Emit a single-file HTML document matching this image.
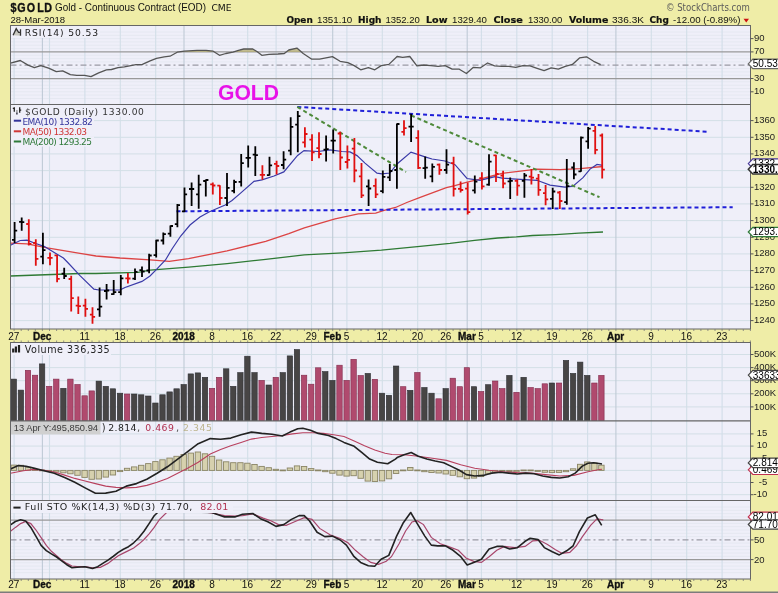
<!DOCTYPE html>
<html><head><meta charset="utf-8"><title>$GOLD StockCharts</title>
<style>html,body{margin:0;padding:0;background:#EFEDA7;overflow:hidden}svg{display:block}</style>
</head><body>
<svg width="778" height="593" viewBox="0 0 778 593">
<rect width="778" height="593" fill="#EFEDA7"/>
<rect x="0" y="591.5" width="778" height="1.5" fill="#7c7c7c"/>
<text transform="scale(0.84,1)" x="12.62 20.48 31.90 44.29 52.62" y="12.2" font-family="'Liberation Sans', Arial, sans-serif" font-size="12.8" font-weight="bold" fill="#111" stroke="#111" stroke-width="0.35">$GOLD</text>
<text x="55.1" y="11.2" font-family="'Liberation Sans', Arial, sans-serif" font-size="10" fill="#111" textLength="150.9" lengthAdjust="spacingAndGlyphs">Gold - Continuous Contract (EOD)</text>
<text x="211.4" y="11.2" font-family="'DejaVu Sans', Verdana, sans-serif" font-size="8.2" fill="#111" textLength="20.2" lengthAdjust="spacingAndGlyphs">CME</text>
<text x="10.4" y="23" font-family="'Liberation Sans', Arial, sans-serif" font-size="9.5" fill="#111" textLength="54.8" lengthAdjust="spacingAndGlyphs">28-Mar-2018</text>
<text x="286.4" y="22.8" font-family="'DejaVu Sans', Verdana, sans-serif" font-size="9" font-weight="bold" fill="#111" textLength="26.4" lengthAdjust="spacingAndGlyphs" stroke="#111" stroke-width="0.2">Open</text>
<text x="317" y="22.8" font-family="'Liberation Sans', Arial, sans-serif" font-size="9.5" fill="#111" textLength="35.3" lengthAdjust="spacingAndGlyphs">1351.10</text>
<text x="358" y="22.8" font-family="'DejaVu Sans', Verdana, sans-serif" font-size="9" font-weight="bold" fill="#111" textLength="23.5" lengthAdjust="spacingAndGlyphs" stroke="#111" stroke-width="0.2">High</text>
<text x="385.4" y="22.8" font-family="'Liberation Sans', Arial, sans-serif" font-size="9.5" fill="#111" textLength="34.4" lengthAdjust="spacingAndGlyphs">1352.20</text>
<text x="426" y="22.8" font-family="'DejaVu Sans', Verdana, sans-serif" font-size="9" font-weight="bold" fill="#111" textLength="21.5" lengthAdjust="spacingAndGlyphs" stroke="#111" stroke-width="0.2">Low</text>
<text x="452" y="22.8" font-family="'Liberation Sans', Arial, sans-serif" font-size="9.5" fill="#111" textLength="35" lengthAdjust="spacingAndGlyphs">1329.40</text>
<text x="493.4" y="22.8" font-family="'DejaVu Sans', Verdana, sans-serif" font-size="9" font-weight="bold" fill="#111" textLength="29.5" lengthAdjust="spacingAndGlyphs" stroke="#111" stroke-width="0.2">Close</text>
<text x="527.9" y="22.8" font-family="'Liberation Sans', Arial, sans-serif" font-size="9.5" fill="#111" textLength="34.4" lengthAdjust="spacingAndGlyphs">1330.00</text>
<text x="568.9" y="22.8" font-family="'DejaVu Sans', Verdana, sans-serif" font-size="9" font-weight="bold" fill="#111" textLength="39.4" lengthAdjust="spacingAndGlyphs" stroke="#111" stroke-width="0.2">Volume</text>
<text x="612" y="22.8" font-family="'Liberation Sans', Arial, sans-serif" font-size="9.5" fill="#111" textLength="32" lengthAdjust="spacingAndGlyphs">336.3K</text>
<text x="649.5" y="22.8" font-family="'DejaVu Sans', Verdana, sans-serif" font-size="9" font-weight="bold" fill="#111" textLength="19.3" lengthAdjust="spacingAndGlyphs" stroke="#111" stroke-width="0.2">Chg</text>
<text x="673" y="22.8" font-family="'Liberation Sans', Arial, sans-serif" font-size="9.5" fill="#111" textLength="67.5" lengthAdjust="spacingAndGlyphs">-12.00 (-0.89%)</text>
<path d="M743.5,18.8 L749,18.8 L746.25,22.6 Z" fill="#cc1111"/>
<text x="665.9" y="11.4" font-family="'DejaVu Sans', Verdana, sans-serif" font-size="10" fill="#5a5a5a" textLength="84" lengthAdjust="spacingAndGlyphs">© StockCharts.com</text>
<rect x="10.5" y="25.5" width="740.0" height="79.0" fill="#EFEFF9"/>
<line x1="10.5" y1="98.5" x2="750.5" y2="98.5" stroke="#E5E8F1" stroke-width="1"/>
<line x1="10.5" y1="95.1" x2="750.5" y2="95.1" stroke="#E5E8F1" stroke-width="1"/>
<line x1="10.5" y1="91.8" x2="750.5" y2="91.8" stroke="#E5E8F1" stroke-width="1"/>
<line x1="10.5" y1="88.5" x2="750.5" y2="88.5" stroke="#E5E8F1" stroke-width="1"/>
<line x1="10.5" y1="85.2" x2="750.5" y2="85.2" stroke="#E5E8F1" stroke-width="1"/>
<line x1="10.5" y1="81.8" x2="750.5" y2="81.8" stroke="#E5E8F1" stroke-width="1"/>
<line x1="10.5" y1="75.2" x2="750.5" y2="75.2" stroke="#E5E8F1" stroke-width="1"/>
<line x1="10.5" y1="71.9" x2="750.5" y2="71.9" stroke="#E5E8F1" stroke-width="1"/>
<line x1="10.5" y1="68.5" x2="750.5" y2="68.5" stroke="#E5E8F1" stroke-width="1"/>
<line x1="10.5" y1="61.9" x2="750.5" y2="61.9" stroke="#E5E8F1" stroke-width="1"/>
<line x1="10.5" y1="58.6" x2="750.5" y2="58.6" stroke="#E5E8F1" stroke-width="1"/>
<line x1="10.5" y1="55.2" x2="750.5" y2="55.2" stroke="#E5E8F1" stroke-width="1"/>
<line x1="10.5" y1="48.6" x2="750.5" y2="48.6" stroke="#E5E8F1" stroke-width="1"/>
<line x1="10.5" y1="45.2" x2="750.5" y2="45.2" stroke="#E5E8F1" stroke-width="1"/>
<line x1="10.5" y1="41.9" x2="750.5" y2="41.9" stroke="#E5E8F1" stroke-width="1"/>
<line x1="10.5" y1="38.6" x2="750.5" y2="38.6" stroke="#E5E8F1" stroke-width="1"/>
<line x1="10.5" y1="35.3" x2="750.5" y2="35.3" stroke="#E5E8F1" stroke-width="1"/>
<line x1="10.5" y1="32.0" x2="750.5" y2="32.0" stroke="#E5E8F1" stroke-width="1"/>
<line x1="14.1" y1="25.5" x2="14.1" y2="104.5" stroke="#D2DEE8" stroke-width="1.1"/>
<line x1="42.4" y1="25.5" x2="42.4" y2="104.5" stroke="#BFCAD6" stroke-width="1.1"/>
<line x1="49.5" y1="25.5" x2="49.5" y2="104.5" stroke="#D2DEE8" stroke-width="1.1"/>
<line x1="84.9" y1="25.5" x2="84.9" y2="104.5" stroke="#D2DEE8" stroke-width="1.1"/>
<line x1="120.3" y1="25.5" x2="120.3" y2="104.5" stroke="#D2DEE8" stroke-width="1.1"/>
<line x1="155.7" y1="25.5" x2="155.7" y2="104.5" stroke="#D2DEE8" stroke-width="1.1"/>
<line x1="184.0" y1="25.5" x2="184.0" y2="104.5" stroke="#BFCAD6" stroke-width="1.1"/>
<line x1="212.3" y1="25.5" x2="212.3" y2="104.5" stroke="#D2DEE8" stroke-width="1.1"/>
<line x1="247.7" y1="25.5" x2="247.7" y2="104.5" stroke="#D2DEE8" stroke-width="1.1"/>
<line x1="276.1" y1="25.5" x2="276.1" y2="104.5" stroke="#D2DEE8" stroke-width="1.1"/>
<line x1="311.5" y1="25.5" x2="311.5" y2="104.5" stroke="#D2DEE8" stroke-width="1.1"/>
<line x1="332.7" y1="25.5" x2="332.7" y2="104.5" stroke="#BFCAD6" stroke-width="1.1"/>
<line x1="346.9" y1="25.5" x2="346.9" y2="104.5" stroke="#D2DEE8" stroke-width="1.1"/>
<line x1="382.3" y1="25.5" x2="382.3" y2="104.5" stroke="#D2DEE8" stroke-width="1.1"/>
<line x1="417.7" y1="25.5" x2="417.7" y2="104.5" stroke="#D2DEE8" stroke-width="1.1"/>
<line x1="446.0" y1="25.5" x2="446.0" y2="104.5" stroke="#D2DEE8" stroke-width="1.1"/>
<line x1="467.2" y1="25.5" x2="467.2" y2="104.5" stroke="#BFCAD6" stroke-width="1.1"/>
<line x1="481.4" y1="25.5" x2="481.4" y2="104.5" stroke="#D2DEE8" stroke-width="1.1"/>
<line x1="516.8" y1="25.5" x2="516.8" y2="104.5" stroke="#D2DEE8" stroke-width="1.1"/>
<line x1="552.2" y1="25.5" x2="552.2" y2="104.5" stroke="#D2DEE8" stroke-width="1.1"/>
<line x1="587.6" y1="25.5" x2="587.6" y2="104.5" stroke="#D2DEE8" stroke-width="1.1"/>
<line x1="615.9" y1="25.5" x2="615.9" y2="104.5" stroke="#BFCAD6" stroke-width="1.1"/>
<line x1="651.3" y1="25.5" x2="651.3" y2="104.5" stroke="#D2DEE8" stroke-width="1.1"/>
<line x1="686.7" y1="25.5" x2="686.7" y2="104.5" stroke="#D2DEE8" stroke-width="1.1"/>
<line x1="722.1" y1="25.5" x2="722.1" y2="104.5" stroke="#D2DEE8" stroke-width="1.1"/>
<line x1="10.5" y1="51.9" x2="750.5" y2="51.9" stroke="#999" stroke-width="1.25"/>
<line x1="10.5" y1="78.5" x2="750.5" y2="78.5" stroke="#999" stroke-width="1.25"/>
<line x1="10.5" y1="65.2" x2="750.5" y2="65.2" stroke="#9a9aa4" stroke-width="1.3" stroke-dasharray="6,3,2,3"/>
<polygon points="179.4,51.9 184.4,51.2 197.0,50.3 206.0,50.4 213.2,51.2 214.3,51.9" fill="#B8B078" opacity="0.8"/>
<polygon points="233.9,51.9 238.4,50.4 243.8,49.0 252.8,49.0 257.3,51.7 257.6,51.9" fill="#B8B078" opacity="0.8"/>
<polygon points="286.4,51.9 288.8,50.0 296.9,48.1 301.3,51.9" fill="#B8B078" opacity="0.8"/>
<polyline points="10.5,63.1 20.3,60.5 28.0,65.1 34.4,67.7 40.8,65.6 48.6,68.2 56.3,71.6 62.7,70.8 70.4,74.6 76.8,75.4 84.6,75.4 91.0,76.7 98.7,72.8 106.4,69.8 111.5,69.5 118.0,67.7 124.4,66.9 130.8,65.6 136.0,64.6 142.4,64.4 150.1,60.8 156.5,58.4 164.2,56.9 170.0,56.2 177.2,52.2 184.4,51.2 197.0,50.3 206.0,50.4 213.2,51.2 219.5,55.3 225.8,53.5 233.0,52.2 238.4,50.4 243.8,49.0 252.8,49.0 257.3,51.7 261.8,55.3 269.0,54.4 278.0,54.0 284.3,53.5 288.8,50.0 296.9,48.1 303.2,53.5 311.8,59.2 319.5,59.2 326.0,57.9 332.4,56.6 340.1,61.3 347.8,62.6 354.2,65.6 360.7,69.8 368.4,67.7 374.8,69.8 381.2,65.6 388.9,64.4 397.1,56.5 402.7,57.4 409.8,56.5 416.9,65.9 423.9,65.0 431.0,65.6 438.1,66.4 445.1,65.6 452.2,69.2 459.3,69.2 466.4,73.5 473.4,67.3 480.5,67.8 487.6,63.0 494.6,65.9 501.7,66.4 508.8,66.4 515.8,67.3 522.9,65.6 530.0,65.9 537.1,68.4 544.1,70.7 551.2,67.8 558.3,69.2 565.3,66.4 572.4,64.4 579.5,57.9 586.5,56.8 593.6,61.3 600.7,64.7" fill="none" stroke="#555" stroke-width="1.3" stroke-linejoin="round"/>
<text x="218" y="99.9" font-family="'Liberation Sans', Arial, sans-serif" font-size="22" font-weight="bold" fill="#E812E8" textLength="61" lengthAdjust="spacingAndGlyphs">GOLD</text>
<rect x="11" y="26" width="89" height="12" fill="#EFEFF9"/>
<path d="M13.1,35.2 L16.2,28.6 L18.6,32.4 L20.5,32.4 L20.5,35.7 Z" fill="#C8C8C0" stroke="none"/>
<path d="M13.1,35.2 L16.2,28.6 L18.6,32.4 H20.3 M20.5,29.3 V35.7" fill="none" stroke="#333" stroke-width="1.3"/>
<text x="24.7" y="35.5" font-family="'DejaVu Sans', Verdana, sans-serif" font-size="9.2" fill="#222" textLength="73.3" lengthAdjust="spacing">RSI(14) 50.53</text>
<rect x="10.5" y="25.5" width="740.0" height="79.0" fill="none" stroke="#666" stroke-width="1"/>
<line x1="750.5" y1="38.6" x2="753.5" y2="38.6" stroke="#555" stroke-width="1"/>
<text x="754" y="40.9" font-family="'Liberation Sans', Arial, sans-serif" font-size="9.5" fill="#222">90</text>
<line x1="750.5" y1="51.9" x2="753.5" y2="51.9" stroke="#555" stroke-width="1"/>
<text x="754" y="54.2" font-family="'Liberation Sans', Arial, sans-serif" font-size="9.5" fill="#222">70</text>
<line x1="750.5" y1="78.5" x2="753.5" y2="78.5" stroke="#555" stroke-width="1"/>
<text x="754" y="80.8" font-family="'Liberation Sans', Arial, sans-serif" font-size="9.5" fill="#222">30</text>
<line x1="750.5" y1="91.8" x2="753.5" y2="91.8" stroke="#555" stroke-width="1"/>
<text x="754" y="94.1" font-family="'Liberation Sans', Arial, sans-serif" font-size="9.5" fill="#222">10</text>
<path d="M748.3,63.9 L752.8,59.2 L790,59.2 L790,68.6 L752.8,68.6 Z" fill="#fff" stroke="#666" stroke-width="1.2"/>
<text x="752.8" y="67.3" font-family="'Liberation Sans', Arial, sans-serif" font-size="10" fill="#000">50.53</text>
<rect x="10.5" y="104.5" width="740.0" height="224.5" fill="#EFEFF9"/>
<line x1="10.5" y1="320.6" x2="750.5" y2="320.6" stroke="#D3DFE6" stroke-width="1"/>
<line x1="10.5" y1="303.9" x2="750.5" y2="303.9" stroke="#D3DFE6" stroke-width="1"/>
<line x1="10.5" y1="287.3" x2="750.5" y2="287.3" stroke="#D3DFE6" stroke-width="1"/>
<line x1="10.5" y1="270.6" x2="750.5" y2="270.6" stroke="#D3DFE6" stroke-width="1"/>
<line x1="10.5" y1="253.9" x2="750.5" y2="253.9" stroke="#D3DFE6" stroke-width="1"/>
<line x1="10.5" y1="237.3" x2="750.5" y2="237.3" stroke="#D3DFE6" stroke-width="1"/>
<line x1="10.5" y1="220.6" x2="750.5" y2="220.6" stroke="#D3DFE6" stroke-width="1"/>
<line x1="10.5" y1="203.9" x2="750.5" y2="203.9" stroke="#D3DFE6" stroke-width="1"/>
<line x1="10.5" y1="187.3" x2="750.5" y2="187.3" stroke="#D3DFE6" stroke-width="1"/>
<line x1="10.5" y1="170.6" x2="750.5" y2="170.6" stroke="#D3DFE6" stroke-width="1"/>
<line x1="10.5" y1="153.9" x2="750.5" y2="153.9" stroke="#D3DFE6" stroke-width="1"/>
<line x1="10.5" y1="137.3" x2="750.5" y2="137.3" stroke="#D3DFE6" stroke-width="1"/>
<line x1="10.5" y1="120.6" x2="750.5" y2="120.6" stroke="#D3DFE6" stroke-width="1"/>
<line x1="14.1" y1="104.5" x2="14.1" y2="329" stroke="#D2DEE8" stroke-width="1.1"/>
<line x1="42.4" y1="104.5" x2="42.4" y2="329" stroke="#BFCAD6" stroke-width="1.1"/>
<line x1="49.5" y1="104.5" x2="49.5" y2="329" stroke="#D2DEE8" stroke-width="1.1"/>
<line x1="84.9" y1="104.5" x2="84.9" y2="329" stroke="#D2DEE8" stroke-width="1.1"/>
<line x1="120.3" y1="104.5" x2="120.3" y2="329" stroke="#D2DEE8" stroke-width="1.1"/>
<line x1="155.7" y1="104.5" x2="155.7" y2="329" stroke="#D2DEE8" stroke-width="1.1"/>
<line x1="184.0" y1="104.5" x2="184.0" y2="329" stroke="#BFCAD6" stroke-width="1.1"/>
<line x1="212.3" y1="104.5" x2="212.3" y2="329" stroke="#D2DEE8" stroke-width="1.1"/>
<line x1="247.7" y1="104.5" x2="247.7" y2="329" stroke="#D2DEE8" stroke-width="1.1"/>
<line x1="276.1" y1="104.5" x2="276.1" y2="329" stroke="#D2DEE8" stroke-width="1.1"/>
<line x1="311.5" y1="104.5" x2="311.5" y2="329" stroke="#D2DEE8" stroke-width="1.1"/>
<line x1="332.7" y1="104.5" x2="332.7" y2="329" stroke="#BFCAD6" stroke-width="1.1"/>
<line x1="346.9" y1="104.5" x2="346.9" y2="329" stroke="#D2DEE8" stroke-width="1.1"/>
<line x1="382.3" y1="104.5" x2="382.3" y2="329" stroke="#D2DEE8" stroke-width="1.1"/>
<line x1="417.7" y1="104.5" x2="417.7" y2="329" stroke="#D2DEE8" stroke-width="1.1"/>
<line x1="446.0" y1="104.5" x2="446.0" y2="329" stroke="#D2DEE8" stroke-width="1.1"/>
<line x1="467.2" y1="104.5" x2="467.2" y2="329" stroke="#BFCAD6" stroke-width="1.1"/>
<line x1="481.4" y1="104.5" x2="481.4" y2="329" stroke="#D2DEE8" stroke-width="1.1"/>
<line x1="516.8" y1="104.5" x2="516.8" y2="329" stroke="#D2DEE8" stroke-width="1.1"/>
<line x1="552.2" y1="104.5" x2="552.2" y2="329" stroke="#D2DEE8" stroke-width="1.1"/>
<line x1="587.6" y1="104.5" x2="587.6" y2="329" stroke="#D2DEE8" stroke-width="1.1"/>
<line x1="615.9" y1="104.5" x2="615.9" y2="329" stroke="#BFCAD6" stroke-width="1.1"/>
<line x1="651.3" y1="104.5" x2="651.3" y2="329" stroke="#D2DEE8" stroke-width="1.1"/>
<line x1="686.7" y1="104.5" x2="686.7" y2="329" stroke="#D2DEE8" stroke-width="1.1"/>
<line x1="722.1" y1="104.5" x2="722.1" y2="329" stroke="#D2DEE8" stroke-width="1.1"/>
<polyline points="10.5,276.0 80.0,273.5 96.0,273.5 138.0,272.4 150.0,270.2 188.6,267.1 227.1,263.6 265.7,259.4 304.3,254.8 342.8,252.8 381.4,250.1 420.0,246.3 450.0,243.4 474.7,240.4 497.8,238.0 516.3,236.9 532.6,235.5 555.7,234.6 578.8,233.2 603.0,232.0" fill="none" stroke="#2E7A34" stroke-width="1.3"/>
<polyline points="10.5,243.2 27.0,243.9 47.2,247.9 80.0,253.3 96.0,256.0 120.0,258.0 150.0,259.8 169.3,261.3 188.6,258.6 227.1,250.9 265.7,241.3 288.8,233.6 304.3,227.8 335.1,218.9 358.3,213.8 375.7,213.1 384.1,210.3 395.5,207.5 406.8,202.5 419.5,197.6 433.6,192.3 446.4,187.7 454.9,185.6 466.2,182.4 480.0,179.2 490.0,176.5 502.0,173.4 537.0,169.1 560.0,169.7 580.0,168.6 603.0,166.5" fill="none" stroke="#DC4444" stroke-width="1.3"/>
<polyline points="10.5,245.2 20.2,240.5 27.0,240.2 35.1,243.2 44.5,246.6 56.7,254.0 63.4,258.0 67.3,262.0 80.0,275.6 93.9,289.1 99.0,290.0 120.0,290.0 125.0,287.5 142.0,281.4 150.0,276.0 155.8,270.2 165.5,260.0 172.0,249.0 180.7,236.0 190.0,225.0 200.0,217.0 209.0,212.0 217.0,208.5 225.2,205.0 232.0,200.5 240.0,193.6 254.0,181.3 262.0,179.9 274.0,176.0 283.8,171.9 297.6,155.4 304.0,150.6 318.0,151.5 330.0,149.8 342.0,151.5 350.0,151.9 357.0,155.6 365.0,163.1 377.0,173.2 382.0,173.8 390.0,173.0 397.0,164.0 411.0,152.1 425.0,156.9 432.0,159.0 445.0,161.0 455.0,164.7 467.0,178.5 480.0,180.3 495.0,176.6 502.0,178.2 537.0,180.3 550.0,185.1 565.0,187.2 573.0,186.2 583.0,177.6 590.0,169.1 597.0,164.4 603.0,165.4" fill="none" stroke="#3A3AA8" stroke-width="1.2"/>
<line x1="176.5" y1="211.3" x2="732.7" y2="207.2" stroke="#1F1FD8" stroke-width="2" stroke-dasharray="4,3"/>
<line x1="297.3" y1="106.9" x2="707.5" y2="131.7" stroke="#1F1FD8" stroke-width="2" stroke-dasharray="4,3"/>
<line x1="297.3" y1="106.9" x2="406" y2="172" stroke="#4E8A3A" stroke-width="2" stroke-dasharray="4,3"/>
<line x1="411" y1="115.4" x2="599.5" y2="197.2" stroke="#4E8A3A" stroke-width="2" stroke-dasharray="4,3"/>
<path d="M14.6,222.1V242.9M12.0,239.8H14.6M14.6,230.7H17.2" stroke="#000" stroke-width="1.8" fill="none"/>
<path d="M21.7,217.6V230.7M19.1,221.9H21.7M21.7,222.1H24.3" stroke="#000" stroke-width="1.8" fill="none"/>
<path d="M28.8,219.3V245.4M26.2,224.0H28.8M28.8,243.9H31.4" stroke="#E01010" stroke-width="1.8" fill="none"/>
<path d="M35.8,239.2V265.7M33.2,243.0H35.8M35.8,258.8H38.4" stroke="#E01010" stroke-width="1.8" fill="none"/>
<path d="M42.9,232.8V264.2M40.3,256.7H42.9M42.9,250.2H45.5" stroke="#000" stroke-width="1.8" fill="none"/>
<path d="M50.0,252.5V265.2M47.4,257.8H50.0M50.0,257.8H52.6" stroke="#E01010" stroke-width="1.8" fill="none"/>
<path d="M57.1,255.1V282.2M54.5,255.4H57.1M57.1,278.8H59.7" stroke="#E01010" stroke-width="1.8" fill="none"/>
<path d="M64.2,267.7V279.0M61.6,273.7H64.2M64.2,276.0H66.8" stroke="#000" stroke-width="1.8" fill="none"/>
<path d="M71.2,275.8V311.4M68.6,279.0H71.2M71.2,298.2H73.8" stroke="#E01010" stroke-width="1.8" fill="none"/>
<path d="M78.3,296.6V314.1M75.7,305.6H78.3M78.3,306.1H80.9" stroke="#E01010" stroke-width="1.8" fill="none"/>
<path d="M85.4,298.7V316.8M82.8,305.6H85.4M85.4,308.8H88.0" stroke="#E01010" stroke-width="1.8" fill="none"/>
<path d="M92.5,307.2V323.7M89.9,314.6H92.5M92.5,316.8H95.1" stroke="#E01010" stroke-width="1.8" fill="none"/>
<path d="M99.6,287.4V316.8M97.0,309.3H99.6M99.6,306.7H102.2" stroke="#000" stroke-width="1.8" fill="none"/>
<path d="M106.6,284.1V299.5M104.0,291.0H106.6M106.6,290.5H109.2" stroke="#000" stroke-width="1.8" fill="none"/>
<path d="M113.7,279.9V294.8M111.1,294.2H113.7M113.7,292.1H116.3" stroke="#000" stroke-width="1.8" fill="none"/>
<path d="M120.8,275.1V295.3M118.2,292.1H120.8M120.8,278.3H123.4" stroke="#000" stroke-width="1.8" fill="none"/>
<path d="M127.9,273.0V283.6M125.3,278.3H127.9M127.9,278.5H130.5" stroke="#E01010" stroke-width="1.8" fill="none"/>
<path d="M135.0,268.4V280.0M132.4,278.6H135.0M135.0,271.9H137.6" stroke="#000" stroke-width="1.8" fill="none"/>
<path d="M142.0,266.6V277.1M139.4,270.2H142.0M142.0,271.5H144.6" stroke="#000" stroke-width="1.8" fill="none"/>
<path d="M149.1,253.8V273.2M146.5,270.5H149.1M149.1,255.5H151.7" stroke="#000" stroke-width="1.8" fill="none"/>
<path d="M156.2,239.7V257.5M153.6,255.2H156.2M156.2,240.5H158.8" stroke="#000" stroke-width="1.8" fill="none"/>
<path d="M163.3,232.5V244.6M160.7,240.5H163.3M163.3,234.1H165.9" stroke="#000" stroke-width="1.8" fill="none"/>
<path d="M170.4,225.4V236.8M167.8,233.6H170.4M170.4,226.0H173.0" stroke="#000" stroke-width="1.8" fill="none"/>
<path d="M177.4,203.9V227.3M174.8,224.1H177.4M177.4,205.2H180.0" stroke="#000" stroke-width="1.8" fill="none"/>
<path d="M184.5,187.4V211.9M181.9,211.3H184.5M184.5,194.3H187.1" stroke="#000" stroke-width="1.8" fill="none"/>
<path d="M191.6,182.6V206.0M189.0,189.0H191.6M191.6,189.0H194.2" stroke="#000" stroke-width="1.8" fill="none"/>
<path d="M198.7,174.7V208.7M196.1,194.3H198.7M198.7,184.6H201.3" stroke="#000" stroke-width="1.8" fill="none"/>
<path d="M205.8,179.4V196.4M203.2,181.0H205.8M205.8,180.0H208.4" stroke="#000" stroke-width="1.8" fill="none"/>
<path d="M212.8,182.5V194.5M210.2,184.4H212.8M212.8,185.5H215.4" stroke="#E01010" stroke-width="1.8" fill="none"/>
<path d="M219.9,185.2V204.9M217.3,185.7H219.9M219.9,198.0H222.5" stroke="#E01010" stroke-width="1.8" fill="none"/>
<path d="M227.0,173.0V205.9M224.4,198.0H227.0M227.0,187.9H229.6" stroke="#000" stroke-width="1.8" fill="none"/>
<path d="M234.1,179.8V193.3M231.5,190.8H234.1M234.1,182.0H236.7" stroke="#000" stroke-width="1.8" fill="none"/>
<path d="M241.2,154.1V186.6M238.6,181.8H241.2M241.2,163.2H243.8" stroke="#000" stroke-width="1.8" fill="none"/>
<path d="M248.2,145.6V167.4M245.6,157.9H248.2M248.2,157.9H250.8" stroke="#000" stroke-width="1.8" fill="none"/>
<path d="M255.3,146.2V175.9M252.7,154.7H255.3M255.3,155.2H257.9" stroke="#000" stroke-width="1.8" fill="none"/>
<path d="M262.4,165.3V179.7M259.8,174.9H262.4M262.4,174.9H265.0" stroke="#E01010" stroke-width="1.8" fill="none"/>
<path d="M269.5,156.8V175.5M266.9,175.2H269.5M269.5,165.4H272.1" stroke="#000" stroke-width="1.8" fill="none"/>
<path d="M276.6,160.8V174.6M274.0,163.9H276.6M276.6,166.0H279.2" stroke="#E01010" stroke-width="1.8" fill="none"/>
<path d="M283.6,151.2V169.2M281.0,165.0H283.6M283.6,159.7H286.2" stroke="#000" stroke-width="1.8" fill="none"/>
<path d="M290.7,117.3V155.2M288.1,150.7H290.7M290.7,126.9H293.3" stroke="#000" stroke-width="1.8" fill="none"/>
<path d="M297.8,110.9V152.3M295.2,124.7H297.8M297.8,116.2H300.4" stroke="#000" stroke-width="1.8" fill="none"/>
<path d="M304.9,127.2V147.4M302.3,142.3H304.9M304.9,134.0H307.5" stroke="#E01010" stroke-width="1.8" fill="none"/>
<path d="M312.0,134.3V160.9M309.4,139.6H312.0M312.0,152.4H314.6" stroke="#E01010" stroke-width="1.8" fill="none"/>
<path d="M319.0,132.2V158.3M316.4,148.2H319.0M319.0,154.0H321.6" stroke="#E01010" stroke-width="1.8" fill="none"/>
<path d="M326.1,135.4V161.4M323.5,149.7H326.1M326.1,149.2H328.7" stroke="#000" stroke-width="1.8" fill="none"/>
<path d="M333.2,129.5V153.5M330.6,140.7H333.2M333.2,140.7H335.8" stroke="#000" stroke-width="1.8" fill="none"/>
<path d="M340.3,131.7V170.0M337.7,133.5H340.3M340.3,157.5H342.9" stroke="#E01010" stroke-width="1.8" fill="none"/>
<path d="M347.4,145.5V168.4M344.8,162.0H347.4M347.4,159.9H350.0" stroke="#E01010" stroke-width="1.8" fill="none"/>
<path d="M354.4,138.1V182.2M351.8,148.7H354.4M354.4,170.5H357.0" stroke="#E01010" stroke-width="1.8" fill="none"/>
<path d="M361.5,163.0V198.1M358.9,176.3H361.5M361.5,195.4H364.1" stroke="#E01010" stroke-width="1.8" fill="none"/>
<path d="M368.6,179.5V206.0M366.0,186.4H368.6M368.6,188.5H371.2" stroke="#000" stroke-width="1.8" fill="none"/>
<path d="M375.7,178.4V198.1M373.1,185.8H375.7M375.7,194.3H378.3" stroke="#E01010" stroke-width="1.8" fill="none"/>
<path d="M382.8,170.4V193.3M380.2,191.2H382.8M382.8,176.8H385.4" stroke="#000" stroke-width="1.8" fill="none"/>
<path d="M389.8,164.0V181.0M387.2,177.3H389.8M389.8,171.0H392.4" stroke="#000" stroke-width="1.8" fill="none"/>
<path d="M396.9,123.4V188.8M394.3,170.0H396.9M396.9,124.0H399.5" stroke="#000" stroke-width="1.8" fill="none"/>
<path d="M404.0,120.2V135.6M401.4,131.9H404.0M404.0,128.2H406.6" stroke="#E01010" stroke-width="1.8" fill="none"/>
<path d="M411.1,113.8V142.0M408.5,126.6H411.1M411.1,126.6H413.7" stroke="#000" stroke-width="1.8" fill="none"/>
<path d="M418.2,130.3V169.1M415.6,137.8H418.2M418.2,167.8H420.8" stroke="#E01010" stroke-width="1.8" fill="none"/>
<path d="M425.2,156.4V178.7M422.6,168.1H425.2M425.2,167.6H427.8" stroke="#000" stroke-width="1.8" fill="none"/>
<path d="M432.3,163.6V182.2M429.7,176.4H432.3M432.3,166.8H434.9" stroke="#000" stroke-width="1.8" fill="none"/>
<path d="M439.4,163.6V174.8M436.8,164.7H439.4M439.4,170.0H442.0" stroke="#E01010" stroke-width="1.8" fill="none"/>
<path d="M446.5,149.3V173.7M443.9,170.0H446.5M446.5,164.7H449.1" stroke="#000" stroke-width="1.8" fill="none"/>
<path d="M453.6,156.7V196.6M451.0,163.1H453.6M453.6,188.8H456.2" stroke="#E01010" stroke-width="1.8" fill="none"/>
<path d="M460.6,181.4V192.6M458.0,188.8H460.6M460.6,190.0H463.2" stroke="#E01010" stroke-width="1.8" fill="none"/>
<path d="M467.7,182.5V214.5M465.1,188.7H467.7M467.7,212.2H470.3" stroke="#E01010" stroke-width="1.8" fill="none"/>
<path d="M474.8,175.5V193.4M472.2,190.4H474.8M474.8,181.6H477.4" stroke="#000" stroke-width="1.8" fill="none"/>
<path d="M481.9,172.3V189.6M479.3,178.2H481.9M481.9,186.3H484.5" stroke="#E01010" stroke-width="1.8" fill="none"/>
<path d="M489.0,154.3V185.8M486.4,184.6H489.0M489.0,161.7H491.6" stroke="#000" stroke-width="1.8" fill="none"/>
<path d="M496.0,154.8V181.9M493.4,155.3H496.0M496.0,174.0H498.6" stroke="#E01010" stroke-width="1.8" fill="none"/>
<path d="M503.1,170.7V188.3M500.5,175.5H503.1M503.1,183.5H505.7" stroke="#E01010" stroke-width="1.8" fill="none"/>
<path d="M510.2,177.6V198.9M507.6,181.4H510.2M510.2,180.8H512.8" stroke="#000" stroke-width="1.8" fill="none"/>
<path d="M517.3,179.2V195.7M514.7,180.8H517.3M517.3,185.6H519.9" stroke="#E01010" stroke-width="1.8" fill="none"/>
<path d="M524.4,172.9V197.8M521.8,180.8H524.4M524.4,175.5H527.0" stroke="#000" stroke-width="1.8" fill="none"/>
<path d="M531.4,169.1V184.6M528.8,176.6H531.4M531.4,177.6H534.0" stroke="#E01010" stroke-width="1.8" fill="none"/>
<path d="M538.5,173.9V195.7M535.9,178.7H538.5M538.5,189.9H541.1" stroke="#E01010" stroke-width="1.8" fill="none"/>
<path d="M545.6,185.1V205.3M543.0,193.1H545.6M545.6,199.4H548.2" stroke="#E01010" stroke-width="1.8" fill="none"/>
<path d="M552.7,187.7V209.0M550.1,198.9H552.7M552.7,191.5H555.3" stroke="#000" stroke-width="1.8" fill="none"/>
<path d="M559.8,190.9V209.0M557.2,192.5H559.8M559.8,201.0H562.4" stroke="#E01010" stroke-width="1.8" fill="none"/>
<path d="M566.8,158.9V204.8M564.2,202.1H566.8M566.8,186.2H569.4" stroke="#000" stroke-width="1.8" fill="none"/>
<path d="M573.9,162.2V179.2M571.3,167.5H573.9M573.9,174.5H576.5" stroke="#000" stroke-width="1.8" fill="none"/>
<path d="M581.0,136.6V171.8M578.4,171.3H581.0M581.0,137.7H583.6" stroke="#000" stroke-width="1.8" fill="none"/>
<path d="M588.1,127.0V148.8M585.5,141.4H588.1M588.1,128.6H590.7" stroke="#000" stroke-width="1.8" fill="none"/>
<path d="M595.2,126.0V154.2M592.6,130.8H595.2M595.2,149.9H597.8" stroke="#E01010" stroke-width="1.8" fill="none"/>
<path d="M602.2,133.4V178.4M599.6,135.5H602.2M602.2,169.6H604.8" stroke="#E01010" stroke-width="1.8" fill="none"/>
<rect x="11" y="105" width="134" height="11.5" fill="#EFEFF9"/>
<rect x="11" y="116.5" width="83" height="10" fill="#EFEFF9"/>
<rect x="11" y="126.5" width="78" height="10" fill="#EFEFF9"/>
<rect x="11" y="136.5" width="83" height="10" fill="#EFEFF9"/>
<text x="25" y="114.5" font-family="'DejaVu Sans', Verdana, sans-serif" font-size="9.1" fill="#333" textLength="118.9" lengthAdjust="spacing">$GOLD (Daily) 1330.00</text>
<path d="M14.3,107.3 V111.8 M12.8,108.4 H14.3 M19.7,107.3 V112.8 M19.7,110.1 H21.2" stroke="#222" stroke-width="1.3" fill="none"/>
<path d="M16.9,110 V112.5" stroke="#999" stroke-width="1.4"/><path d="M16.9,112.5 V114.6" stroke="#334" stroke-width="1.5"/>
<line x1="13.8" y1="120.7" x2="21.1" y2="120.7" stroke="#33339A" stroke-width="2"/>
<text x="22.5" y="124.5" font-family="'DejaVu Sans', Verdana, sans-serif" font-size="9" fill="#33339A" textLength="70.3" lengthAdjust="spacing">EMA(10) 1332.82</text>
<line x1="13.8" y1="131.3" x2="21.1" y2="131.3" stroke="#D03838" stroke-width="2"/>
<text x="22.5" y="135.10000000000002" font-family="'DejaVu Sans', Verdana, sans-serif" font-size="9" fill="#D03838" textLength="64.5" lengthAdjust="spacing">MA(50) 1332.03</text>
<line x1="13.8" y1="141.5" x2="21.1" y2="141.5" stroke="#2F7A3A" stroke-width="2"/>
<text x="22.5" y="145.3" font-family="'DejaVu Sans', Verdana, sans-serif" font-size="9" fill="#2F7A3A" textLength="69.4" lengthAdjust="spacing">MA(200) 1293.25</text>
<rect x="10.5" y="104.5" width="740.0" height="224.5" fill="none" stroke="#666" stroke-width="1"/>
<line x1="750.5" y1="320.6" x2="753.5" y2="320.6" stroke="#555" stroke-width="1"/>
<text x="754" y="323.0" font-family="'Liberation Sans', Arial, sans-serif" font-size="9.5" fill="#222">1240</text>
<line x1="750.5" y1="303.9" x2="753.5" y2="303.9" stroke="#555" stroke-width="1"/>
<text x="754" y="306.3" font-family="'Liberation Sans', Arial, sans-serif" font-size="9.5" fill="#222">1250</text>
<line x1="750.5" y1="287.3" x2="753.5" y2="287.3" stroke="#555" stroke-width="1"/>
<text x="754" y="289.7" font-family="'Liberation Sans', Arial, sans-serif" font-size="9.5" fill="#222">1260</text>
<line x1="750.5" y1="270.6" x2="753.5" y2="270.6" stroke="#555" stroke-width="1"/>
<text x="754" y="273.0" font-family="'Liberation Sans', Arial, sans-serif" font-size="9.5" fill="#222">1270</text>
<line x1="750.5" y1="253.9" x2="753.5" y2="253.9" stroke="#555" stroke-width="1"/>
<text x="754" y="256.3" font-family="'Liberation Sans', Arial, sans-serif" font-size="9.5" fill="#222">1280</text>
<line x1="750.5" y1="237.3" x2="753.5" y2="237.3" stroke="#555" stroke-width="1"/>
<text x="754" y="239.7" font-family="'Liberation Sans', Arial, sans-serif" font-size="9.5" fill="#222">1290</text>
<line x1="750.5" y1="220.6" x2="753.5" y2="220.6" stroke="#555" stroke-width="1"/>
<text x="754" y="223.0" font-family="'Liberation Sans', Arial, sans-serif" font-size="9.5" fill="#222">1300</text>
<line x1="750.5" y1="203.9" x2="753.5" y2="203.9" stroke="#555" stroke-width="1"/>
<text x="754" y="206.3" font-family="'Liberation Sans', Arial, sans-serif" font-size="9.5" fill="#222">1310</text>
<line x1="750.5" y1="187.3" x2="753.5" y2="187.3" stroke="#555" stroke-width="1"/>
<text x="754" y="189.7" font-family="'Liberation Sans', Arial, sans-serif" font-size="9.5" fill="#222">1320</text>
<line x1="750.5" y1="170.6" x2="753.5" y2="170.6" stroke="#555" stroke-width="1"/>
<line x1="750.5" y1="153.9" x2="753.5" y2="153.9" stroke="#555" stroke-width="1"/>
<text x="754" y="156.3" font-family="'Liberation Sans', Arial, sans-serif" font-size="9.5" fill="#222">1340</text>
<line x1="750.5" y1="137.3" x2="753.5" y2="137.3" stroke="#555" stroke-width="1"/>
<text x="754" y="139.7" font-family="'Liberation Sans', Arial, sans-serif" font-size="9.5" fill="#222">1350</text>
<line x1="750.5" y1="120.6" x2="753.5" y2="120.6" stroke="#555" stroke-width="1"/>
<text x="754" y="123.0" font-family="'Liberation Sans', Arial, sans-serif" font-size="9.5" fill="#222">1360</text>
<path d="M748.3,163.6 L752.8,158.9 L790,158.9 L790,168.3 L752.8,168.3 Z" fill="#fff" stroke="#4A3A9A" stroke-width="1.2"/>
<text x="752.8" y="167.0" font-family="'Liberation Sans', Arial, sans-serif" font-size="10" fill="#000">1332.82</text>
<path d="M748.3,169.3 L752.8,164.6 L790,164.6 L790,174.0 L752.8,174.0 Z" fill="#fff" stroke="#333" stroke-width="1.5"/>
<text x="752.8" y="172.7" font-family="'Liberation Sans', Arial, sans-serif" font-size="10" font-weight="bold" fill="#000">1330.00</text>
<path d="M748.3,232.0 L752.8,227.3 L790,227.3 L790,236.7 L752.8,236.7 Z" fill="#fff" stroke="#2F7A3A" stroke-width="1.2"/>
<text x="752.8" y="235.4" font-family="'Liberation Sans', Arial, sans-serif" font-size="10" fill="#000">1293.25</text>
<line x1="14.1" y1="329" x2="14.1" y2="331" stroke="#777" stroke-width="0.8"/>
<line x1="14.1" y1="340.5" x2="14.1" y2="342.5" stroke="#777" stroke-width="0.8"/>
<line x1="21.2" y1="329" x2="21.2" y2="331" stroke="#777" stroke-width="0.8"/>
<line x1="21.2" y1="340.5" x2="21.2" y2="342.5" stroke="#777" stroke-width="0.8"/>
<line x1="28.3" y1="329" x2="28.3" y2="331" stroke="#777" stroke-width="0.8"/>
<line x1="28.3" y1="340.5" x2="28.3" y2="342.5" stroke="#777" stroke-width="0.8"/>
<line x1="35.3" y1="329" x2="35.3" y2="331" stroke="#777" stroke-width="0.8"/>
<line x1="35.3" y1="340.5" x2="35.3" y2="342.5" stroke="#777" stroke-width="0.8"/>
<line x1="42.4" y1="329" x2="42.4" y2="331" stroke="#777" stroke-width="0.8"/>
<line x1="42.4" y1="340.5" x2="42.4" y2="342.5" stroke="#777" stroke-width="0.8"/>
<line x1="49.5" y1="329" x2="49.5" y2="331" stroke="#777" stroke-width="0.8"/>
<line x1="49.5" y1="340.5" x2="49.5" y2="342.5" stroke="#777" stroke-width="0.8"/>
<line x1="56.6" y1="329" x2="56.6" y2="331" stroke="#777" stroke-width="0.8"/>
<line x1="56.6" y1="340.5" x2="56.6" y2="342.5" stroke="#777" stroke-width="0.8"/>
<line x1="63.7" y1="329" x2="63.7" y2="331" stroke="#777" stroke-width="0.8"/>
<line x1="63.7" y1="340.5" x2="63.7" y2="342.5" stroke="#777" stroke-width="0.8"/>
<line x1="70.7" y1="329" x2="70.7" y2="331" stroke="#777" stroke-width="0.8"/>
<line x1="70.7" y1="340.5" x2="70.7" y2="342.5" stroke="#777" stroke-width="0.8"/>
<line x1="77.8" y1="329" x2="77.8" y2="331" stroke="#777" stroke-width="0.8"/>
<line x1="77.8" y1="340.5" x2="77.8" y2="342.5" stroke="#777" stroke-width="0.8"/>
<line x1="84.9" y1="329" x2="84.9" y2="331" stroke="#777" stroke-width="0.8"/>
<line x1="84.9" y1="340.5" x2="84.9" y2="342.5" stroke="#777" stroke-width="0.8"/>
<line x1="92.0" y1="329" x2="92.0" y2="331" stroke="#777" stroke-width="0.8"/>
<line x1="92.0" y1="340.5" x2="92.0" y2="342.5" stroke="#777" stroke-width="0.8"/>
<line x1="99.1" y1="329" x2="99.1" y2="331" stroke="#777" stroke-width="0.8"/>
<line x1="99.1" y1="340.5" x2="99.1" y2="342.5" stroke="#777" stroke-width="0.8"/>
<line x1="106.1" y1="329" x2="106.1" y2="331" stroke="#777" stroke-width="0.8"/>
<line x1="106.1" y1="340.5" x2="106.1" y2="342.5" stroke="#777" stroke-width="0.8"/>
<line x1="113.2" y1="329" x2="113.2" y2="331" stroke="#777" stroke-width="0.8"/>
<line x1="113.2" y1="340.5" x2="113.2" y2="342.5" stroke="#777" stroke-width="0.8"/>
<line x1="120.3" y1="329" x2="120.3" y2="331" stroke="#777" stroke-width="0.8"/>
<line x1="120.3" y1="340.5" x2="120.3" y2="342.5" stroke="#777" stroke-width="0.8"/>
<line x1="127.4" y1="329" x2="127.4" y2="331" stroke="#777" stroke-width="0.8"/>
<line x1="127.4" y1="340.5" x2="127.4" y2="342.5" stroke="#777" stroke-width="0.8"/>
<line x1="134.5" y1="329" x2="134.5" y2="331" stroke="#777" stroke-width="0.8"/>
<line x1="134.5" y1="340.5" x2="134.5" y2="342.5" stroke="#777" stroke-width="0.8"/>
<line x1="141.5" y1="329" x2="141.5" y2="331" stroke="#777" stroke-width="0.8"/>
<line x1="141.5" y1="340.5" x2="141.5" y2="342.5" stroke="#777" stroke-width="0.8"/>
<line x1="148.6" y1="329" x2="148.6" y2="331" stroke="#777" stroke-width="0.8"/>
<line x1="148.6" y1="340.5" x2="148.6" y2="342.5" stroke="#777" stroke-width="0.8"/>
<line x1="155.7" y1="329" x2="155.7" y2="331" stroke="#777" stroke-width="0.8"/>
<line x1="155.7" y1="340.5" x2="155.7" y2="342.5" stroke="#777" stroke-width="0.8"/>
<line x1="162.8" y1="329" x2="162.8" y2="331" stroke="#777" stroke-width="0.8"/>
<line x1="162.8" y1="340.5" x2="162.8" y2="342.5" stroke="#777" stroke-width="0.8"/>
<line x1="169.9" y1="329" x2="169.9" y2="331" stroke="#777" stroke-width="0.8"/>
<line x1="169.9" y1="340.5" x2="169.9" y2="342.5" stroke="#777" stroke-width="0.8"/>
<line x1="176.9" y1="329" x2="176.9" y2="331" stroke="#777" stroke-width="0.8"/>
<line x1="176.9" y1="340.5" x2="176.9" y2="342.5" stroke="#777" stroke-width="0.8"/>
<line x1="184.0" y1="329" x2="184.0" y2="331" stroke="#777" stroke-width="0.8"/>
<line x1="184.0" y1="340.5" x2="184.0" y2="342.5" stroke="#777" stroke-width="0.8"/>
<line x1="191.1" y1="329" x2="191.1" y2="331" stroke="#777" stroke-width="0.8"/>
<line x1="191.1" y1="340.5" x2="191.1" y2="342.5" stroke="#777" stroke-width="0.8"/>
<line x1="198.2" y1="329" x2="198.2" y2="331" stroke="#777" stroke-width="0.8"/>
<line x1="198.2" y1="340.5" x2="198.2" y2="342.5" stroke="#777" stroke-width="0.8"/>
<line x1="205.3" y1="329" x2="205.3" y2="331" stroke="#777" stroke-width="0.8"/>
<line x1="205.3" y1="340.5" x2="205.3" y2="342.5" stroke="#777" stroke-width="0.8"/>
<line x1="212.3" y1="329" x2="212.3" y2="331" stroke="#777" stroke-width="0.8"/>
<line x1="212.3" y1="340.5" x2="212.3" y2="342.5" stroke="#777" stroke-width="0.8"/>
<line x1="219.4" y1="329" x2="219.4" y2="331" stroke="#777" stroke-width="0.8"/>
<line x1="219.4" y1="340.5" x2="219.4" y2="342.5" stroke="#777" stroke-width="0.8"/>
<line x1="226.5" y1="329" x2="226.5" y2="331" stroke="#777" stroke-width="0.8"/>
<line x1="226.5" y1="340.5" x2="226.5" y2="342.5" stroke="#777" stroke-width="0.8"/>
<line x1="233.6" y1="329" x2="233.6" y2="331" stroke="#777" stroke-width="0.8"/>
<line x1="233.6" y1="340.5" x2="233.6" y2="342.5" stroke="#777" stroke-width="0.8"/>
<line x1="240.7" y1="329" x2="240.7" y2="331" stroke="#777" stroke-width="0.8"/>
<line x1="240.7" y1="340.5" x2="240.7" y2="342.5" stroke="#777" stroke-width="0.8"/>
<line x1="247.7" y1="329" x2="247.7" y2="331" stroke="#777" stroke-width="0.8"/>
<line x1="247.7" y1="340.5" x2="247.7" y2="342.5" stroke="#777" stroke-width="0.8"/>
<line x1="254.8" y1="329" x2="254.8" y2="331" stroke="#777" stroke-width="0.8"/>
<line x1="254.8" y1="340.5" x2="254.8" y2="342.5" stroke="#777" stroke-width="0.8"/>
<line x1="261.9" y1="329" x2="261.9" y2="331" stroke="#777" stroke-width="0.8"/>
<line x1="261.9" y1="340.5" x2="261.9" y2="342.5" stroke="#777" stroke-width="0.8"/>
<line x1="269.0" y1="329" x2="269.0" y2="331" stroke="#777" stroke-width="0.8"/>
<line x1="269.0" y1="340.5" x2="269.0" y2="342.5" stroke="#777" stroke-width="0.8"/>
<line x1="276.1" y1="329" x2="276.1" y2="331" stroke="#777" stroke-width="0.8"/>
<line x1="276.1" y1="340.5" x2="276.1" y2="342.5" stroke="#777" stroke-width="0.8"/>
<line x1="283.1" y1="329" x2="283.1" y2="331" stroke="#777" stroke-width="0.8"/>
<line x1="283.1" y1="340.5" x2="283.1" y2="342.5" stroke="#777" stroke-width="0.8"/>
<line x1="290.2" y1="329" x2="290.2" y2="331" stroke="#777" stroke-width="0.8"/>
<line x1="290.2" y1="340.5" x2="290.2" y2="342.5" stroke="#777" stroke-width="0.8"/>
<line x1="297.3" y1="329" x2="297.3" y2="331" stroke="#777" stroke-width="0.8"/>
<line x1="297.3" y1="340.5" x2="297.3" y2="342.5" stroke="#777" stroke-width="0.8"/>
<line x1="304.4" y1="329" x2="304.4" y2="331" stroke="#777" stroke-width="0.8"/>
<line x1="304.4" y1="340.5" x2="304.4" y2="342.5" stroke="#777" stroke-width="0.8"/>
<line x1="311.5" y1="329" x2="311.5" y2="331" stroke="#777" stroke-width="0.8"/>
<line x1="311.5" y1="340.5" x2="311.5" y2="342.5" stroke="#777" stroke-width="0.8"/>
<line x1="318.5" y1="329" x2="318.5" y2="331" stroke="#777" stroke-width="0.8"/>
<line x1="318.5" y1="340.5" x2="318.5" y2="342.5" stroke="#777" stroke-width="0.8"/>
<line x1="325.6" y1="329" x2="325.6" y2="331" stroke="#777" stroke-width="0.8"/>
<line x1="325.6" y1="340.5" x2="325.6" y2="342.5" stroke="#777" stroke-width="0.8"/>
<line x1="332.7" y1="329" x2="332.7" y2="331" stroke="#777" stroke-width="0.8"/>
<line x1="332.7" y1="340.5" x2="332.7" y2="342.5" stroke="#777" stroke-width="0.8"/>
<line x1="339.8" y1="329" x2="339.8" y2="331" stroke="#777" stroke-width="0.8"/>
<line x1="339.8" y1="340.5" x2="339.8" y2="342.5" stroke="#777" stroke-width="0.8"/>
<line x1="346.9" y1="329" x2="346.9" y2="331" stroke="#777" stroke-width="0.8"/>
<line x1="346.9" y1="340.5" x2="346.9" y2="342.5" stroke="#777" stroke-width="0.8"/>
<line x1="353.9" y1="329" x2="353.9" y2="331" stroke="#777" stroke-width="0.8"/>
<line x1="353.9" y1="340.5" x2="353.9" y2="342.5" stroke="#777" stroke-width="0.8"/>
<line x1="361.0" y1="329" x2="361.0" y2="331" stroke="#777" stroke-width="0.8"/>
<line x1="361.0" y1="340.5" x2="361.0" y2="342.5" stroke="#777" stroke-width="0.8"/>
<line x1="368.1" y1="329" x2="368.1" y2="331" stroke="#777" stroke-width="0.8"/>
<line x1="368.1" y1="340.5" x2="368.1" y2="342.5" stroke="#777" stroke-width="0.8"/>
<line x1="375.2" y1="329" x2="375.2" y2="331" stroke="#777" stroke-width="0.8"/>
<line x1="375.2" y1="340.5" x2="375.2" y2="342.5" stroke="#777" stroke-width="0.8"/>
<line x1="382.3" y1="329" x2="382.3" y2="331" stroke="#777" stroke-width="0.8"/>
<line x1="382.3" y1="340.5" x2="382.3" y2="342.5" stroke="#777" stroke-width="0.8"/>
<line x1="389.3" y1="329" x2="389.3" y2="331" stroke="#777" stroke-width="0.8"/>
<line x1="389.3" y1="340.5" x2="389.3" y2="342.5" stroke="#777" stroke-width="0.8"/>
<line x1="396.4" y1="329" x2="396.4" y2="331" stroke="#777" stroke-width="0.8"/>
<line x1="396.4" y1="340.5" x2="396.4" y2="342.5" stroke="#777" stroke-width="0.8"/>
<line x1="403.5" y1="329" x2="403.5" y2="331" stroke="#777" stroke-width="0.8"/>
<line x1="403.5" y1="340.5" x2="403.5" y2="342.5" stroke="#777" stroke-width="0.8"/>
<line x1="410.6" y1="329" x2="410.6" y2="331" stroke="#777" stroke-width="0.8"/>
<line x1="410.6" y1="340.5" x2="410.6" y2="342.5" stroke="#777" stroke-width="0.8"/>
<line x1="417.7" y1="329" x2="417.7" y2="331" stroke="#777" stroke-width="0.8"/>
<line x1="417.7" y1="340.5" x2="417.7" y2="342.5" stroke="#777" stroke-width="0.8"/>
<line x1="424.7" y1="329" x2="424.7" y2="331" stroke="#777" stroke-width="0.8"/>
<line x1="424.7" y1="340.5" x2="424.7" y2="342.5" stroke="#777" stroke-width="0.8"/>
<line x1="431.8" y1="329" x2="431.8" y2="331" stroke="#777" stroke-width="0.8"/>
<line x1="431.8" y1="340.5" x2="431.8" y2="342.5" stroke="#777" stroke-width="0.8"/>
<line x1="438.9" y1="329" x2="438.9" y2="331" stroke="#777" stroke-width="0.8"/>
<line x1="438.9" y1="340.5" x2="438.9" y2="342.5" stroke="#777" stroke-width="0.8"/>
<line x1="446.0" y1="329" x2="446.0" y2="331" stroke="#777" stroke-width="0.8"/>
<line x1="446.0" y1="340.5" x2="446.0" y2="342.5" stroke="#777" stroke-width="0.8"/>
<line x1="453.1" y1="329" x2="453.1" y2="331" stroke="#777" stroke-width="0.8"/>
<line x1="453.1" y1="340.5" x2="453.1" y2="342.5" stroke="#777" stroke-width="0.8"/>
<line x1="460.1" y1="329" x2="460.1" y2="331" stroke="#777" stroke-width="0.8"/>
<line x1="460.1" y1="340.5" x2="460.1" y2="342.5" stroke="#777" stroke-width="0.8"/>
<line x1="467.2" y1="329" x2="467.2" y2="331" stroke="#777" stroke-width="0.8"/>
<line x1="467.2" y1="340.5" x2="467.2" y2="342.5" stroke="#777" stroke-width="0.8"/>
<line x1="474.3" y1="329" x2="474.3" y2="331" stroke="#777" stroke-width="0.8"/>
<line x1="474.3" y1="340.5" x2="474.3" y2="342.5" stroke="#777" stroke-width="0.8"/>
<line x1="481.4" y1="329" x2="481.4" y2="331" stroke="#777" stroke-width="0.8"/>
<line x1="481.4" y1="340.5" x2="481.4" y2="342.5" stroke="#777" stroke-width="0.8"/>
<line x1="488.5" y1="329" x2="488.5" y2="331" stroke="#777" stroke-width="0.8"/>
<line x1="488.5" y1="340.5" x2="488.5" y2="342.5" stroke="#777" stroke-width="0.8"/>
<line x1="495.5" y1="329" x2="495.5" y2="331" stroke="#777" stroke-width="0.8"/>
<line x1="495.5" y1="340.5" x2="495.5" y2="342.5" stroke="#777" stroke-width="0.8"/>
<line x1="502.6" y1="329" x2="502.6" y2="331" stroke="#777" stroke-width="0.8"/>
<line x1="502.6" y1="340.5" x2="502.6" y2="342.5" stroke="#777" stroke-width="0.8"/>
<line x1="509.7" y1="329" x2="509.7" y2="331" stroke="#777" stroke-width="0.8"/>
<line x1="509.7" y1="340.5" x2="509.7" y2="342.5" stroke="#777" stroke-width="0.8"/>
<line x1="516.8" y1="329" x2="516.8" y2="331" stroke="#777" stroke-width="0.8"/>
<line x1="516.8" y1="340.5" x2="516.8" y2="342.5" stroke="#777" stroke-width="0.8"/>
<line x1="523.9" y1="329" x2="523.9" y2="331" stroke="#777" stroke-width="0.8"/>
<line x1="523.9" y1="340.5" x2="523.9" y2="342.5" stroke="#777" stroke-width="0.8"/>
<line x1="530.9" y1="329" x2="530.9" y2="331" stroke="#777" stroke-width="0.8"/>
<line x1="530.9" y1="340.5" x2="530.9" y2="342.5" stroke="#777" stroke-width="0.8"/>
<line x1="538.0" y1="329" x2="538.0" y2="331" stroke="#777" stroke-width="0.8"/>
<line x1="538.0" y1="340.5" x2="538.0" y2="342.5" stroke="#777" stroke-width="0.8"/>
<line x1="545.1" y1="329" x2="545.1" y2="331" stroke="#777" stroke-width="0.8"/>
<line x1="545.1" y1="340.5" x2="545.1" y2="342.5" stroke="#777" stroke-width="0.8"/>
<line x1="552.2" y1="329" x2="552.2" y2="331" stroke="#777" stroke-width="0.8"/>
<line x1="552.2" y1="340.5" x2="552.2" y2="342.5" stroke="#777" stroke-width="0.8"/>
<line x1="559.3" y1="329" x2="559.3" y2="331" stroke="#777" stroke-width="0.8"/>
<line x1="559.3" y1="340.5" x2="559.3" y2="342.5" stroke="#777" stroke-width="0.8"/>
<line x1="566.3" y1="329" x2="566.3" y2="331" stroke="#777" stroke-width="0.8"/>
<line x1="566.3" y1="340.5" x2="566.3" y2="342.5" stroke="#777" stroke-width="0.8"/>
<line x1="573.4" y1="329" x2="573.4" y2="331" stroke="#777" stroke-width="0.8"/>
<line x1="573.4" y1="340.5" x2="573.4" y2="342.5" stroke="#777" stroke-width="0.8"/>
<line x1="580.5" y1="329" x2="580.5" y2="331" stroke="#777" stroke-width="0.8"/>
<line x1="580.5" y1="340.5" x2="580.5" y2="342.5" stroke="#777" stroke-width="0.8"/>
<line x1="587.6" y1="329" x2="587.6" y2="331" stroke="#777" stroke-width="0.8"/>
<line x1="587.6" y1="340.5" x2="587.6" y2="342.5" stroke="#777" stroke-width="0.8"/>
<line x1="594.7" y1="329" x2="594.7" y2="331" stroke="#777" stroke-width="0.8"/>
<line x1="594.7" y1="340.5" x2="594.7" y2="342.5" stroke="#777" stroke-width="0.8"/>
<line x1="601.7" y1="329" x2="601.7" y2="331" stroke="#777" stroke-width="0.8"/>
<line x1="601.7" y1="340.5" x2="601.7" y2="342.5" stroke="#777" stroke-width="0.8"/>
<line x1="608.8" y1="329" x2="608.8" y2="331" stroke="#777" stroke-width="0.8"/>
<line x1="608.8" y1="340.5" x2="608.8" y2="342.5" stroke="#777" stroke-width="0.8"/>
<line x1="615.9" y1="329" x2="615.9" y2="331" stroke="#777" stroke-width="0.8"/>
<line x1="615.9" y1="340.5" x2="615.9" y2="342.5" stroke="#777" stroke-width="0.8"/>
<line x1="623.0" y1="329" x2="623.0" y2="331" stroke="#777" stroke-width="0.8"/>
<line x1="623.0" y1="340.5" x2="623.0" y2="342.5" stroke="#777" stroke-width="0.8"/>
<line x1="630.1" y1="329" x2="630.1" y2="331" stroke="#777" stroke-width="0.8"/>
<line x1="630.1" y1="340.5" x2="630.1" y2="342.5" stroke="#777" stroke-width="0.8"/>
<line x1="637.1" y1="329" x2="637.1" y2="331" stroke="#777" stroke-width="0.8"/>
<line x1="637.1" y1="340.5" x2="637.1" y2="342.5" stroke="#777" stroke-width="0.8"/>
<line x1="644.2" y1="329" x2="644.2" y2="331" stroke="#777" stroke-width="0.8"/>
<line x1="644.2" y1="340.5" x2="644.2" y2="342.5" stroke="#777" stroke-width="0.8"/>
<line x1="651.3" y1="329" x2="651.3" y2="331" stroke="#777" stroke-width="0.8"/>
<line x1="651.3" y1="340.5" x2="651.3" y2="342.5" stroke="#777" stroke-width="0.8"/>
<line x1="658.4" y1="329" x2="658.4" y2="331" stroke="#777" stroke-width="0.8"/>
<line x1="658.4" y1="340.5" x2="658.4" y2="342.5" stroke="#777" stroke-width="0.8"/>
<line x1="665.5" y1="329" x2="665.5" y2="331" stroke="#777" stroke-width="0.8"/>
<line x1="665.5" y1="340.5" x2="665.5" y2="342.5" stroke="#777" stroke-width="0.8"/>
<line x1="672.5" y1="329" x2="672.5" y2="331" stroke="#777" stroke-width="0.8"/>
<line x1="672.5" y1="340.5" x2="672.5" y2="342.5" stroke="#777" stroke-width="0.8"/>
<line x1="679.6" y1="329" x2="679.6" y2="331" stroke="#777" stroke-width="0.8"/>
<line x1="679.6" y1="340.5" x2="679.6" y2="342.5" stroke="#777" stroke-width="0.8"/>
<line x1="686.7" y1="329" x2="686.7" y2="331" stroke="#777" stroke-width="0.8"/>
<line x1="686.7" y1="340.5" x2="686.7" y2="342.5" stroke="#777" stroke-width="0.8"/>
<line x1="693.8" y1="329" x2="693.8" y2="331" stroke="#777" stroke-width="0.8"/>
<line x1="693.8" y1="340.5" x2="693.8" y2="342.5" stroke="#777" stroke-width="0.8"/>
<line x1="700.9" y1="329" x2="700.9" y2="331" stroke="#777" stroke-width="0.8"/>
<line x1="700.9" y1="340.5" x2="700.9" y2="342.5" stroke="#777" stroke-width="0.8"/>
<line x1="707.9" y1="329" x2="707.9" y2="331" stroke="#777" stroke-width="0.8"/>
<line x1="707.9" y1="340.5" x2="707.9" y2="342.5" stroke="#777" stroke-width="0.8"/>
<line x1="715.0" y1="329" x2="715.0" y2="331" stroke="#777" stroke-width="0.8"/>
<line x1="715.0" y1="340.5" x2="715.0" y2="342.5" stroke="#777" stroke-width="0.8"/>
<line x1="722.1" y1="329" x2="722.1" y2="331" stroke="#777" stroke-width="0.8"/>
<line x1="722.1" y1="340.5" x2="722.1" y2="342.5" stroke="#777" stroke-width="0.8"/>
<line x1="729.2" y1="329" x2="729.2" y2="331" stroke="#777" stroke-width="0.8"/>
<line x1="729.2" y1="340.5" x2="729.2" y2="342.5" stroke="#777" stroke-width="0.8"/>
<line x1="736.3" y1="329" x2="736.3" y2="331" stroke="#777" stroke-width="0.8"/>
<line x1="736.3" y1="340.5" x2="736.3" y2="342.5" stroke="#777" stroke-width="0.8"/>
<line x1="743.3" y1="329" x2="743.3" y2="331" stroke="#777" stroke-width="0.8"/>
<line x1="743.3" y1="340.5" x2="743.3" y2="342.5" stroke="#777" stroke-width="0.8"/>
<line x1="750.4" y1="329" x2="750.4" y2="331" stroke="#777" stroke-width="0.8"/>
<line x1="750.4" y1="340.5" x2="750.4" y2="342.5" stroke="#777" stroke-width="0.8"/>
<text x="13.8" y="339.8" font-family="'Liberation Sans', Arial, sans-serif" font-size="10" text-anchor="middle" fill="#111">27</text>
<text x="42.1" y="339.8" font-family="'Liberation Sans', Arial, sans-serif" font-size="10" font-weight="bold" text-anchor="middle" fill="#111" stroke="#111" stroke-width="0.35">Dec</text>
<text x="84.6" y="339.8" font-family="'Liberation Sans', Arial, sans-serif" font-size="10" text-anchor="middle" fill="#111">11</text>
<text x="120.0" y="339.8" font-family="'Liberation Sans', Arial, sans-serif" font-size="10" text-anchor="middle" fill="#111">18</text>
<text x="155.4" y="339.8" font-family="'Liberation Sans', Arial, sans-serif" font-size="10" text-anchor="middle" fill="#111">26</text>
<text x="183.7" y="339.8" font-family="'Liberation Sans', Arial, sans-serif" font-size="10" font-weight="bold" text-anchor="middle" fill="#111" stroke="#111" stroke-width="0.35">2018</text>
<text x="212.0" y="339.8" font-family="'Liberation Sans', Arial, sans-serif" font-size="10" text-anchor="middle" fill="#111">8</text>
<text x="247.4" y="339.8" font-family="'Liberation Sans', Arial, sans-serif" font-size="10" text-anchor="middle" fill="#111">16</text>
<text x="275.8" y="339.8" font-family="'Liberation Sans', Arial, sans-serif" font-size="10" text-anchor="middle" fill="#111">22</text>
<text x="311.2" y="339.8" font-family="'Liberation Sans', Arial, sans-serif" font-size="10" text-anchor="middle" fill="#111">29</text>
<text x="332.4" y="339.8" font-family="'Liberation Sans', Arial, sans-serif" font-size="10" font-weight="bold" text-anchor="middle" fill="#111" stroke="#111" stroke-width="0.35">Feb</text>
<text x="346.6" y="339.8" font-family="'Liberation Sans', Arial, sans-serif" font-size="10" text-anchor="middle" fill="#111">5</text>
<text x="382.0" y="339.8" font-family="'Liberation Sans', Arial, sans-serif" font-size="10" text-anchor="middle" fill="#111">12</text>
<text x="417.4" y="339.8" font-family="'Liberation Sans', Arial, sans-serif" font-size="10" text-anchor="middle" fill="#111">20</text>
<text x="445.7" y="339.8" font-family="'Liberation Sans', Arial, sans-serif" font-size="10" text-anchor="middle" fill="#111">26</text>
<text x="466.9" y="339.8" font-family="'Liberation Sans', Arial, sans-serif" font-size="10" font-weight="bold" text-anchor="middle" fill="#111" stroke="#111" stroke-width="0.35">Mar</text>
<text x="481.1" y="339.8" font-family="'Liberation Sans', Arial, sans-serif" font-size="10" text-anchor="middle" fill="#111">5</text>
<text x="516.5" y="339.8" font-family="'Liberation Sans', Arial, sans-serif" font-size="10" text-anchor="middle" fill="#111">12</text>
<text x="551.9" y="339.8" font-family="'Liberation Sans', Arial, sans-serif" font-size="10" text-anchor="middle" fill="#111">19</text>
<text x="587.3" y="339.8" font-family="'Liberation Sans', Arial, sans-serif" font-size="10" text-anchor="middle" fill="#111">26</text>
<text x="615.6" y="339.8" font-family="'Liberation Sans', Arial, sans-serif" font-size="10" font-weight="bold" text-anchor="middle" fill="#111" stroke="#111" stroke-width="0.35">Apr</text>
<text x="651.0" y="339.8" font-family="'Liberation Sans', Arial, sans-serif" font-size="10" text-anchor="middle" fill="#111">9</text>
<text x="686.4" y="339.8" font-family="'Liberation Sans', Arial, sans-serif" font-size="10" text-anchor="middle" fill="#111">16</text>
<text x="721.8" y="339.8" font-family="'Liberation Sans', Arial, sans-serif" font-size="10" text-anchor="middle" fill="#111">23</text>
<rect x="10.5" y="342.5" width="740.0" height="78.5" fill="#EFEFF9"/>
<line x1="10.5" y1="406.9" x2="750.5" y2="406.9" stroke="#D3DFE6" stroke-width="1"/>
<line x1="10.5" y1="393.8" x2="750.5" y2="393.8" stroke="#D3DFE6" stroke-width="1"/>
<line x1="10.5" y1="380.7" x2="750.5" y2="380.7" stroke="#D3DFE6" stroke-width="1"/>
<line x1="10.5" y1="367.6" x2="750.5" y2="367.6" stroke="#D3DFE6" stroke-width="1"/>
<line x1="10.5" y1="354.5" x2="750.5" y2="354.5" stroke="#D3DFE6" stroke-width="1"/>
<line x1="14.1" y1="342.5" x2="14.1" y2="421" stroke="#D2DEE8" stroke-width="1.1"/>
<line x1="42.4" y1="342.5" x2="42.4" y2="421" stroke="#BFCAD6" stroke-width="1.1"/>
<line x1="49.5" y1="342.5" x2="49.5" y2="421" stroke="#D2DEE8" stroke-width="1.1"/>
<line x1="84.9" y1="342.5" x2="84.9" y2="421" stroke="#D2DEE8" stroke-width="1.1"/>
<line x1="120.3" y1="342.5" x2="120.3" y2="421" stroke="#D2DEE8" stroke-width="1.1"/>
<line x1="155.7" y1="342.5" x2="155.7" y2="421" stroke="#D2DEE8" stroke-width="1.1"/>
<line x1="184.0" y1="342.5" x2="184.0" y2="421" stroke="#BFCAD6" stroke-width="1.1"/>
<line x1="212.3" y1="342.5" x2="212.3" y2="421" stroke="#D2DEE8" stroke-width="1.1"/>
<line x1="247.7" y1="342.5" x2="247.7" y2="421" stroke="#D2DEE8" stroke-width="1.1"/>
<line x1="276.1" y1="342.5" x2="276.1" y2="421" stroke="#D2DEE8" stroke-width="1.1"/>
<line x1="311.5" y1="342.5" x2="311.5" y2="421" stroke="#D2DEE8" stroke-width="1.1"/>
<line x1="332.7" y1="342.5" x2="332.7" y2="421" stroke="#BFCAD6" stroke-width="1.1"/>
<line x1="346.9" y1="342.5" x2="346.9" y2="421" stroke="#D2DEE8" stroke-width="1.1"/>
<line x1="382.3" y1="342.5" x2="382.3" y2="421" stroke="#D2DEE8" stroke-width="1.1"/>
<line x1="417.7" y1="342.5" x2="417.7" y2="421" stroke="#D2DEE8" stroke-width="1.1"/>
<line x1="446.0" y1="342.5" x2="446.0" y2="421" stroke="#D2DEE8" stroke-width="1.1"/>
<line x1="467.2" y1="342.5" x2="467.2" y2="421" stroke="#BFCAD6" stroke-width="1.1"/>
<line x1="481.4" y1="342.5" x2="481.4" y2="421" stroke="#D2DEE8" stroke-width="1.1"/>
<line x1="516.8" y1="342.5" x2="516.8" y2="421" stroke="#D2DEE8" stroke-width="1.1"/>
<line x1="552.2" y1="342.5" x2="552.2" y2="421" stroke="#D2DEE8" stroke-width="1.1"/>
<line x1="587.6" y1="342.5" x2="587.6" y2="421" stroke="#D2DEE8" stroke-width="1.1"/>
<line x1="615.9" y1="342.5" x2="615.9" y2="421" stroke="#BFCAD6" stroke-width="1.1"/>
<line x1="651.3" y1="342.5" x2="651.3" y2="421" stroke="#D2DEE8" stroke-width="1.1"/>
<line x1="686.7" y1="342.5" x2="686.7" y2="421" stroke="#D2DEE8" stroke-width="1.1"/>
<line x1="722.1" y1="342.5" x2="722.1" y2="421" stroke="#D2DEE8" stroke-width="1.1"/>
<rect x="11.1" y="379.1" width="5.4" height="41.9" fill="#474545" stroke="#2C2E32" stroke-width="0.6"/>
<rect x="18.2" y="390.1" width="5.4" height="30.9" fill="#474545" stroke="#2C2E32" stroke-width="0.6"/>
<rect x="25.3" y="370.3" width="5.4" height="50.7" fill="#B04A6E" stroke="#80284A" stroke-width="0.6"/>
<rect x="32.3" y="375.2" width="5.4" height="45.8" fill="#B04A6E" stroke="#80284A" stroke-width="0.6"/>
<rect x="39.4" y="363.9" width="5.4" height="57.1" fill="#474545" stroke="#2C2E32" stroke-width="0.6"/>
<rect x="46.5" y="386.3" width="5.4" height="34.7" fill="#B04A6E" stroke="#80284A" stroke-width="0.6"/>
<rect x="53.6" y="379.1" width="5.4" height="41.9" fill="#B04A6E" stroke="#80284A" stroke-width="0.6"/>
<rect x="60.7" y="388.3" width="5.4" height="32.7" fill="#474545" stroke="#2C2E32" stroke-width="0.6"/>
<rect x="67.7" y="379.1" width="5.4" height="41.9" fill="#B04A6E" stroke="#80284A" stroke-width="0.6"/>
<rect x="74.8" y="384.5" width="5.4" height="36.5" fill="#B04A6E" stroke="#80284A" stroke-width="0.6"/>
<rect x="81.9" y="395.8" width="5.4" height="25.2" fill="#B04A6E" stroke="#80284A" stroke-width="0.6"/>
<rect x="89.0" y="390.9" width="5.4" height="30.1" fill="#B04A6E" stroke="#80284A" stroke-width="0.6"/>
<rect x="96.1" y="381.1" width="5.4" height="39.9" fill="#474545" stroke="#2C2E32" stroke-width="0.6"/>
<rect x="103.1" y="386.3" width="5.4" height="34.7" fill="#474545" stroke="#2C2E32" stroke-width="0.6"/>
<rect x="110.2" y="388.8" width="5.4" height="32.2" fill="#474545" stroke="#2C2E32" stroke-width="0.6"/>
<rect x="117.3" y="393.2" width="5.4" height="27.8" fill="#474545" stroke="#2C2E32" stroke-width="0.6"/>
<rect x="124.4" y="394.0" width="5.4" height="27.0" fill="#B04A6E" stroke="#80284A" stroke-width="0.6"/>
<rect x="131.5" y="394.0" width="5.4" height="27.0" fill="#474545" stroke="#2C2E32" stroke-width="0.6"/>
<rect x="138.5" y="394.8" width="5.4" height="26.2" fill="#474545" stroke="#2C2E32" stroke-width="0.6"/>
<rect x="145.6" y="396.0" width="5.4" height="25.0" fill="#474545" stroke="#2C2E32" stroke-width="0.6"/>
<rect x="152.7" y="403.0" width="5.4" height="18.0" fill="#474545" stroke="#2C2E32" stroke-width="0.6"/>
<rect x="159.8" y="394.8" width="5.4" height="26.2" fill="#474545" stroke="#2C2E32" stroke-width="0.6"/>
<rect x="166.9" y="391.9" width="5.4" height="29.1" fill="#474545" stroke="#2C2E32" stroke-width="0.6"/>
<rect x="173.9" y="388.8" width="5.4" height="32.2" fill="#474545" stroke="#2C2E32" stroke-width="0.6"/>
<rect x="181.0" y="384.5" width="5.4" height="36.5" fill="#474545" stroke="#2C2E32" stroke-width="0.6"/>
<rect x="188.1" y="373.9" width="5.4" height="47.1" fill="#474545" stroke="#2C2E32" stroke-width="0.6"/>
<rect x="195.2" y="372.9" width="5.4" height="48.1" fill="#474545" stroke="#2C2E32" stroke-width="0.6"/>
<rect x="202.3" y="377.3" width="5.4" height="43.7" fill="#474545" stroke="#2C2E32" stroke-width="0.6"/>
<rect x="209.3" y="388.3" width="5.4" height="32.7" fill="#B04A6E" stroke="#80284A" stroke-width="0.6"/>
<rect x="216.4" y="377.3" width="5.4" height="43.7" fill="#B04A6E" stroke="#80284A" stroke-width="0.6"/>
<rect x="223.5" y="368.8" width="5.4" height="52.2" fill="#474545" stroke="#2C2E32" stroke-width="0.6"/>
<rect x="230.6" y="386.3" width="5.4" height="34.7" fill="#474545" stroke="#2C2E32" stroke-width="0.6"/>
<rect x="237.7" y="372.6" width="5.4" height="48.4" fill="#474545" stroke="#2C2E32" stroke-width="0.6"/>
<rect x="244.7" y="356.2" width="5.4" height="64.8" fill="#474545" stroke="#2C2E32" stroke-width="0.6"/>
<rect x="251.8" y="372.6" width="5.4" height="48.4" fill="#474545" stroke="#2C2E32" stroke-width="0.6"/>
<rect x="258.9" y="380.4" width="5.4" height="40.6" fill="#B04A6E" stroke="#80284A" stroke-width="0.6"/>
<rect x="266.0" y="385.0" width="5.4" height="36.0" fill="#474545" stroke="#2C2E32" stroke-width="0.6"/>
<rect x="273.1" y="377.3" width="5.4" height="43.7" fill="#B04A6E" stroke="#80284A" stroke-width="0.6"/>
<rect x="280.1" y="372.6" width="5.4" height="48.4" fill="#474545" stroke="#2C2E32" stroke-width="0.6"/>
<rect x="287.2" y="355.9" width="5.4" height="65.1" fill="#474545" stroke="#2C2E32" stroke-width="0.6"/>
<rect x="294.3" y="349.5" width="5.4" height="71.5" fill="#474545" stroke="#2C2E32" stroke-width="0.6"/>
<rect x="301.4" y="375.2" width="5.4" height="45.8" fill="#B04A6E" stroke="#80284A" stroke-width="0.6"/>
<rect x="308.5" y="384.2" width="5.4" height="36.8" fill="#B04A6E" stroke="#80284A" stroke-width="0.6"/>
<rect x="315.5" y="367.8" width="5.4" height="53.2" fill="#B04A6E" stroke="#80284A" stroke-width="0.6"/>
<rect x="322.6" y="371.6" width="5.4" height="49.4" fill="#474545" stroke="#2C2E32" stroke-width="0.6"/>
<rect x="329.7" y="380.4" width="5.4" height="40.6" fill="#474545" stroke="#2C2E32" stroke-width="0.6"/>
<rect x="336.8" y="365.2" width="5.4" height="55.8" fill="#B04A6E" stroke="#80284A" stroke-width="0.6"/>
<rect x="343.9" y="380.4" width="5.4" height="40.6" fill="#B04A6E" stroke="#80284A" stroke-width="0.6"/>
<rect x="350.9" y="359.3" width="5.4" height="61.7" fill="#B04A6E" stroke="#80284A" stroke-width="0.6"/>
<rect x="358.0" y="375.5" width="5.4" height="45.5" fill="#B04A6E" stroke="#80284A" stroke-width="0.6"/>
<rect x="365.1" y="373.4" width="5.4" height="47.6" fill="#474545" stroke="#2C2E32" stroke-width="0.6"/>
<rect x="372.2" y="379.3" width="5.4" height="41.7" fill="#B04A6E" stroke="#80284A" stroke-width="0.6"/>
<rect x="379.3" y="393.2" width="5.4" height="27.8" fill="#474545" stroke="#2C2E32" stroke-width="0.6"/>
<rect x="386.3" y="395.3" width="5.4" height="25.7" fill="#474545" stroke="#2C2E32" stroke-width="0.6"/>
<rect x="393.4" y="366.0" width="5.4" height="55.0" fill="#474545" stroke="#2C2E32" stroke-width="0.6"/>
<rect x="400.5" y="386.7" width="5.4" height="34.3" fill="#B04A6E" stroke="#80284A" stroke-width="0.6"/>
<rect x="407.6" y="390.3" width="5.4" height="30.7" fill="#474545" stroke="#2C2E32" stroke-width="0.6"/>
<rect x="414.7" y="372.5" width="5.4" height="48.5" fill="#B04A6E" stroke="#80284A" stroke-width="0.6"/>
<rect x="421.7" y="387.5" width="5.4" height="33.5" fill="#474545" stroke="#2C2E32" stroke-width="0.6"/>
<rect x="428.8" y="393.2" width="5.4" height="27.8" fill="#474545" stroke="#2C2E32" stroke-width="0.6"/>
<rect x="435.9" y="398.8" width="5.4" height="22.2" fill="#B04A6E" stroke="#80284A" stroke-width="0.6"/>
<rect x="443.0" y="388.6" width="5.4" height="32.4" fill="#474545" stroke="#2C2E32" stroke-width="0.6"/>
<rect x="450.1" y="378.2" width="5.4" height="42.8" fill="#B04A6E" stroke="#80284A" stroke-width="0.6"/>
<rect x="457.1" y="386.7" width="5.4" height="34.3" fill="#B04A6E" stroke="#80284A" stroke-width="0.6"/>
<rect x="464.2" y="367.7" width="5.4" height="53.3" fill="#B04A6E" stroke="#80284A" stroke-width="0.6"/>
<rect x="471.3" y="386.7" width="5.4" height="34.3" fill="#474545" stroke="#2C2E32" stroke-width="0.6"/>
<rect x="478.4" y="391.5" width="5.4" height="29.5" fill="#B04A6E" stroke="#80284A" stroke-width="0.6"/>
<rect x="485.5" y="384.7" width="5.4" height="36.3" fill="#474545" stroke="#2C2E32" stroke-width="0.6"/>
<rect x="492.5" y="381.0" width="5.4" height="40.0" fill="#B04A6E" stroke="#80284A" stroke-width="0.6"/>
<rect x="499.6" y="388.6" width="5.4" height="32.4" fill="#B04A6E" stroke="#80284A" stroke-width="0.6"/>
<rect x="506.7" y="375.4" width="5.4" height="45.6" fill="#474545" stroke="#2C2E32" stroke-width="0.6"/>
<rect x="513.8" y="392.3" width="5.4" height="28.7" fill="#B04A6E" stroke="#80284A" stroke-width="0.6"/>
<rect x="520.9" y="377.3" width="5.4" height="43.7" fill="#474545" stroke="#2C2E32" stroke-width="0.6"/>
<rect x="527.9" y="387.5" width="5.4" height="33.5" fill="#B04A6E" stroke="#80284A" stroke-width="0.6"/>
<rect x="535.0" y="388.6" width="5.4" height="32.4" fill="#B04A6E" stroke="#80284A" stroke-width="0.6"/>
<rect x="542.1" y="383.8" width="5.4" height="37.2" fill="#B04A6E" stroke="#80284A" stroke-width="0.6"/>
<rect x="549.2" y="383.0" width="5.4" height="38.0" fill="#474545" stroke="#2C2E32" stroke-width="0.6"/>
<rect x="556.3" y="383.0" width="5.4" height="38.0" fill="#B04A6E" stroke="#80284A" stroke-width="0.6"/>
<rect x="563.3" y="360.4" width="5.4" height="60.6" fill="#474545" stroke="#2C2E32" stroke-width="0.6"/>
<rect x="570.4" y="373.4" width="5.4" height="47.6" fill="#474545" stroke="#2C2E32" stroke-width="0.6"/>
<rect x="577.5" y="362.1" width="5.4" height="58.9" fill="#474545" stroke="#2C2E32" stroke-width="0.6"/>
<rect x="584.6" y="375.4" width="5.4" height="45.6" fill="#474545" stroke="#2C2E32" stroke-width="0.6"/>
<rect x="591.7" y="383.0" width="5.4" height="38.0" fill="#B04A6E" stroke="#80284A" stroke-width="0.6"/>
<rect x="598.7" y="375.4" width="5.4" height="45.6" fill="#B04A6E" stroke="#80284A" stroke-width="0.6"/>
<rect x="11" y="343" width="100" height="12" fill="#EFEFF9"/>
<path d="M13.2,352.6 V348.6 M15.9,352.6 V346.4 M19,352.6 V344.9" stroke="#222" stroke-width="2.2"/>
<text x="24.7" y="353.1" font-family="'DejaVu Sans', Verdana, sans-serif" font-size="9.6" fill="#222" textLength="85" lengthAdjust="spacing">Volume 336,335</text>
<rect x="10.5" y="342.5" width="740.0" height="78.5" fill="none" stroke="#666" stroke-width="1"/>
<line x1="750.5" y1="354.5" x2="753.5" y2="354.5" stroke="#555" stroke-width="1"/>
<text x="754" y="357.1" font-family="'Liberation Sans', Arial, sans-serif" font-size="9.5" fill="#222">500K</text>
<line x1="750.5" y1="367.6" x2="753.5" y2="367.6" stroke="#555" stroke-width="1"/>
<text x="754" y="370.2" font-family="'Liberation Sans', Arial, sans-serif" font-size="9.5" fill="#222">400K</text>
<line x1="750.5" y1="393.8" x2="753.5" y2="393.8" stroke="#555" stroke-width="1"/>
<text x="754" y="396.4" font-family="'Liberation Sans', Arial, sans-serif" font-size="9.5" fill="#222">200K</text>
<line x1="750.5" y1="406.9" x2="753.5" y2="406.9" stroke="#555" stroke-width="1"/>
<text x="754" y="409.5" font-family="'Liberation Sans', Arial, sans-serif" font-size="9.5" fill="#222">100K</text>
<line x1="750.5" y1="380.7" x2="753.5" y2="380.7" stroke="#555" stroke-width="1"/>
<text x="754" y="383.3" font-family="'Liberation Sans', Arial, sans-serif" font-size="9.5" fill="#222">300K</text>
<path d="M748.3,375.1 L752.8,370.4 L790,370.4 L790,379.8 L752.8,379.8 Z" fill="#fff" stroke="#444" stroke-width="1.2"/>
<text x="752.8" y="378.5" font-family="'Liberation Sans', Arial, sans-serif" font-size="10" fill="#000">336335</text>
<rect x="10.5" y="421" width="740.0" height="79.5" fill="#EFEFF9"/>
<line x1="10.5" y1="433.9" x2="750.5" y2="433.9" stroke="#D3DFE6" stroke-width="1"/>
<line x1="10.5" y1="446.1" x2="750.5" y2="446.1" stroke="#D3DFE6" stroke-width="1"/>
<line x1="10.5" y1="458.2" x2="750.5" y2="458.2" stroke="#D3DFE6" stroke-width="1"/>
<line x1="10.5" y1="470.4" x2="750.5" y2="470.4" stroke="#D3DFE6" stroke-width="1"/>
<line x1="10.5" y1="482.5" x2="750.5" y2="482.5" stroke="#D3DFE6" stroke-width="1"/>
<line x1="10.5" y1="494.7" x2="750.5" y2="494.7" stroke="#D3DFE6" stroke-width="1"/>
<line x1="14.1" y1="421" x2="14.1" y2="500.5" stroke="#D2DEE8" stroke-width="1.1"/>
<line x1="42.4" y1="421" x2="42.4" y2="500.5" stroke="#BFCAD6" stroke-width="1.1"/>
<line x1="49.5" y1="421" x2="49.5" y2="500.5" stroke="#D2DEE8" stroke-width="1.1"/>
<line x1="84.9" y1="421" x2="84.9" y2="500.5" stroke="#D2DEE8" stroke-width="1.1"/>
<line x1="120.3" y1="421" x2="120.3" y2="500.5" stroke="#D2DEE8" stroke-width="1.1"/>
<line x1="155.7" y1="421" x2="155.7" y2="500.5" stroke="#D2DEE8" stroke-width="1.1"/>
<line x1="184.0" y1="421" x2="184.0" y2="500.5" stroke="#BFCAD6" stroke-width="1.1"/>
<line x1="212.3" y1="421" x2="212.3" y2="500.5" stroke="#D2DEE8" stroke-width="1.1"/>
<line x1="247.7" y1="421" x2="247.7" y2="500.5" stroke="#D2DEE8" stroke-width="1.1"/>
<line x1="276.1" y1="421" x2="276.1" y2="500.5" stroke="#D2DEE8" stroke-width="1.1"/>
<line x1="311.5" y1="421" x2="311.5" y2="500.5" stroke="#D2DEE8" stroke-width="1.1"/>
<line x1="332.7" y1="421" x2="332.7" y2="500.5" stroke="#BFCAD6" stroke-width="1.1"/>
<line x1="346.9" y1="421" x2="346.9" y2="500.5" stroke="#D2DEE8" stroke-width="1.1"/>
<line x1="382.3" y1="421" x2="382.3" y2="500.5" stroke="#D2DEE8" stroke-width="1.1"/>
<line x1="417.7" y1="421" x2="417.7" y2="500.5" stroke="#D2DEE8" stroke-width="1.1"/>
<line x1="446.0" y1="421" x2="446.0" y2="500.5" stroke="#D2DEE8" stroke-width="1.1"/>
<line x1="467.2" y1="421" x2="467.2" y2="500.5" stroke="#BFCAD6" stroke-width="1.1"/>
<line x1="481.4" y1="421" x2="481.4" y2="500.5" stroke="#D2DEE8" stroke-width="1.1"/>
<line x1="516.8" y1="421" x2="516.8" y2="500.5" stroke="#D2DEE8" stroke-width="1.1"/>
<line x1="552.2" y1="421" x2="552.2" y2="500.5" stroke="#D2DEE8" stroke-width="1.1"/>
<line x1="587.6" y1="421" x2="587.6" y2="500.5" stroke="#D2DEE8" stroke-width="1.1"/>
<line x1="615.9" y1="421" x2="615.9" y2="500.5" stroke="#BFCAD6" stroke-width="1.1"/>
<line x1="651.3" y1="421" x2="651.3" y2="500.5" stroke="#D2DEE8" stroke-width="1.1"/>
<line x1="686.7" y1="421" x2="686.7" y2="500.5" stroke="#D2DEE8" stroke-width="1.1"/>
<line x1="722.1" y1="421" x2="722.1" y2="500.5" stroke="#D2DEE8" stroke-width="1.1"/>
<rect x="11.1" y="465.1" width="5.4" height="5.3" fill="#D6D1AE" stroke="#8A8566" stroke-width="0.9"/>
<rect x="18.2" y="465.3" width="5.4" height="5.1" fill="#D6D1AE" stroke="#8A8566" stroke-width="0.9"/>
<rect x="25.3" y="467.3" width="5.4" height="3.1" fill="#D6D1AE" stroke="#8A8566" stroke-width="0.9"/>
<rect x="32.3" y="469.5" width="5.4" height="0.9" fill="#D6D1AE" stroke="#8A8566" stroke-width="0.9"/>
<rect x="39.4" y="470.0" width="5.4" height="0.8" fill="#D6D1AE" stroke="#8A8566" stroke-width="0.9"/>
<rect x="46.5" y="470.4" width="5.4" height="1.0" fill="#D6D1AE" stroke="#8A8566" stroke-width="0.9"/>
<rect x="53.6" y="470.4" width="5.4" height="1.6" fill="#D6D1AE" stroke="#8A8566" stroke-width="0.9"/>
<rect x="60.7" y="470.4" width="5.4" height="2.4" fill="#D6D1AE" stroke="#8A8566" stroke-width="0.9"/>
<rect x="67.7" y="470.4" width="5.4" height="3.4" fill="#D6D1AE" stroke="#8A8566" stroke-width="0.9"/>
<rect x="74.8" y="470.4" width="5.4" height="4.9" fill="#D6D1AE" stroke="#8A8566" stroke-width="0.9"/>
<rect x="81.9" y="470.4" width="5.4" height="7.0" fill="#D6D1AE" stroke="#8A8566" stroke-width="0.9"/>
<rect x="89.0" y="470.4" width="5.4" height="8.9" fill="#D6D1AE" stroke="#8A8566" stroke-width="0.9"/>
<rect x="96.1" y="470.4" width="5.4" height="8.6" fill="#D6D1AE" stroke="#8A8566" stroke-width="0.9"/>
<rect x="103.1" y="470.4" width="5.4" height="6.7" fill="#D6D1AE" stroke="#8A8566" stroke-width="0.9"/>
<rect x="110.2" y="470.4" width="5.4" height="4.6" fill="#D6D1AE" stroke="#8A8566" stroke-width="0.9"/>
<rect x="117.3" y="470.4" width="5.4" height="1.2" fill="#D6D1AE" stroke="#8A8566" stroke-width="0.9"/>
<rect x="124.4" y="468.3" width="5.4" height="2.1" fill="#D6D1AE" stroke="#8A8566" stroke-width="0.9"/>
<rect x="131.5" y="466.9" width="5.4" height="3.5" fill="#D6D1AE" stroke="#8A8566" stroke-width="0.9"/>
<rect x="138.5" y="465.3" width="5.4" height="5.1" fill="#D6D1AE" stroke="#8A8566" stroke-width="0.9"/>
<rect x="145.6" y="463.6" width="5.4" height="6.8" fill="#D6D1AE" stroke="#8A8566" stroke-width="0.9"/>
<rect x="152.7" y="461.6" width="5.4" height="8.8" fill="#D6D1AE" stroke="#8A8566" stroke-width="0.9"/>
<rect x="159.8" y="459.8" width="5.4" height="10.6" fill="#D6D1AE" stroke="#8A8566" stroke-width="0.9"/>
<rect x="166.9" y="458.1" width="5.4" height="12.3" fill="#D6D1AE" stroke="#8A8566" stroke-width="0.9"/>
<rect x="173.9" y="456.3" width="5.4" height="14.1" fill="#D6D1AE" stroke="#8A8566" stroke-width="0.9"/>
<rect x="181.0" y="454.5" width="5.4" height="15.9" fill="#D6D1AE" stroke="#8A8566" stroke-width="0.9"/>
<rect x="188.1" y="453.1" width="5.4" height="17.3" fill="#D6D1AE" stroke="#8A8566" stroke-width="0.9"/>
<rect x="195.2" y="452.0" width="5.4" height="18.4" fill="#D6D1AE" stroke="#8A8566" stroke-width="0.9"/>
<rect x="202.3" y="453.8" width="5.4" height="16.6" fill="#D6D1AE" stroke="#8A8566" stroke-width="0.9"/>
<rect x="209.3" y="456.3" width="5.4" height="14.1" fill="#D6D1AE" stroke="#8A8566" stroke-width="0.9"/>
<rect x="216.4" y="460.0" width="5.4" height="10.4" fill="#D6D1AE" stroke="#8A8566" stroke-width="0.9"/>
<rect x="223.5" y="461.8" width="5.4" height="8.6" fill="#D6D1AE" stroke="#8A8566" stroke-width="0.9"/>
<rect x="230.6" y="462.7" width="5.4" height="7.7" fill="#D6D1AE" stroke="#8A8566" stroke-width="0.9"/>
<rect x="237.7" y="462.7" width="5.4" height="7.7" fill="#D6D1AE" stroke="#8A8566" stroke-width="0.9"/>
<rect x="244.7" y="463.2" width="5.4" height="7.2" fill="#D6D1AE" stroke="#8A8566" stroke-width="0.9"/>
<rect x="251.8" y="464.5" width="5.4" height="5.9" fill="#D6D1AE" stroke="#8A8566" stroke-width="0.9"/>
<rect x="258.9" y="466.4" width="5.4" height="4.0" fill="#D6D1AE" stroke="#8A8566" stroke-width="0.9"/>
<rect x="266.0" y="467.7" width="5.4" height="2.7" fill="#D6D1AE" stroke="#8A8566" stroke-width="0.9"/>
<rect x="273.1" y="469.3" width="5.4" height="1.1" fill="#D6D1AE" stroke="#8A8566" stroke-width="0.9"/>
<rect x="280.1" y="470.0" width="5.4" height="0.8" fill="#D6D1AE" stroke="#8A8566" stroke-width="0.9"/>
<rect x="287.2" y="468.0" width="5.4" height="2.4" fill="#D6D1AE" stroke="#8A8566" stroke-width="0.9"/>
<rect x="294.3" y="465.9" width="5.4" height="4.5" fill="#D6D1AE" stroke="#8A8566" stroke-width="0.9"/>
<rect x="301.4" y="466.5" width="5.4" height="3.9" fill="#D6D1AE" stroke="#8A8566" stroke-width="0.9"/>
<rect x="308.5" y="468.6" width="5.4" height="1.8" fill="#D6D1AE" stroke="#8A8566" stroke-width="0.9"/>
<rect x="315.5" y="470.0" width="5.4" height="0.8" fill="#D6D1AE" stroke="#8A8566" stroke-width="0.9"/>
<rect x="322.6" y="470.4" width="5.4" height="1.3" fill="#D6D1AE" stroke="#8A8566" stroke-width="0.9"/>
<rect x="329.7" y="470.4" width="5.4" height="2.8" fill="#D6D1AE" stroke="#8A8566" stroke-width="0.9"/>
<rect x="336.8" y="470.4" width="5.4" height="4.7" fill="#D6D1AE" stroke="#8A8566" stroke-width="0.9"/>
<rect x="343.9" y="470.4" width="5.4" height="5.7" fill="#D6D1AE" stroke="#8A8566" stroke-width="0.9"/>
<rect x="350.9" y="470.4" width="5.4" height="5.3" fill="#D6D1AE" stroke="#8A8566" stroke-width="0.9"/>
<rect x="358.0" y="470.4" width="5.4" height="7.9" fill="#D6D1AE" stroke="#8A8566" stroke-width="0.9"/>
<rect x="365.1" y="470.4" width="5.4" height="10.7" fill="#D6D1AE" stroke="#8A8566" stroke-width="0.9"/>
<rect x="372.2" y="470.4" width="5.4" height="11.1" fill="#D6D1AE" stroke="#8A8566" stroke-width="0.9"/>
<rect x="379.3" y="470.4" width="5.4" height="10.5" fill="#D6D1AE" stroke="#8A8566" stroke-width="0.9"/>
<rect x="386.3" y="470.4" width="5.4" height="8.4" fill="#D6D1AE" stroke="#8A8566" stroke-width="0.9"/>
<rect x="393.4" y="470.4" width="5.4" height="3.1" fill="#D6D1AE" stroke="#8A8566" stroke-width="0.9"/>
<rect x="400.5" y="470.0" width="5.4" height="0.8" fill="#D6D1AE" stroke="#8A8566" stroke-width="0.9"/>
<rect x="407.6" y="467.5" width="5.4" height="2.9" fill="#D6D1AE" stroke="#8A8566" stroke-width="0.9"/>
<rect x="414.7" y="470.0" width="5.4" height="0.8" fill="#D6D1AE" stroke="#8A8566" stroke-width="0.9"/>
<rect x="421.7" y="470.4" width="5.4" height="1.3" fill="#D6D1AE" stroke="#8A8566" stroke-width="0.9"/>
<rect x="428.8" y="470.4" width="5.4" height="2.1" fill="#D6D1AE" stroke="#8A8566" stroke-width="0.9"/>
<rect x="435.9" y="470.4" width="5.4" height="2.6" fill="#D6D1AE" stroke="#8A8566" stroke-width="0.9"/>
<rect x="443.0" y="470.4" width="5.4" height="3.6" fill="#D6D1AE" stroke="#8A8566" stroke-width="0.9"/>
<rect x="450.1" y="470.4" width="5.4" height="4.9" fill="#D6D1AE" stroke="#8A8566" stroke-width="0.9"/>
<rect x="457.1" y="470.4" width="5.4" height="6.4" fill="#D6D1AE" stroke="#8A8566" stroke-width="0.9"/>
<rect x="464.2" y="470.4" width="5.4" height="8.3" fill="#D6D1AE" stroke="#8A8566" stroke-width="0.9"/>
<rect x="471.3" y="470.4" width="5.4" height="7.7" fill="#D6D1AE" stroke="#8A8566" stroke-width="0.9"/>
<rect x="478.4" y="470.4" width="5.4" height="6.2" fill="#D6D1AE" stroke="#8A8566" stroke-width="0.9"/>
<rect x="485.5" y="470.4" width="5.4" height="3.6" fill="#D6D1AE" stroke="#8A8566" stroke-width="0.9"/>
<rect x="492.5" y="470.4" width="5.4" height="1.7" fill="#D6D1AE" stroke="#8A8566" stroke-width="0.9"/>
<rect x="499.6" y="470.4" width="5.4" height="0.9" fill="#D6D1AE" stroke="#8A8566" stroke-width="0.9"/>
<rect x="506.7" y="470.4" width="5.4" height="1.1" fill="#D6D1AE" stroke="#8A8566" stroke-width="0.9"/>
<rect x="513.8" y="470.4" width="5.4" height="1.4" fill="#D6D1AE" stroke="#8A8566" stroke-width="0.9"/>
<rect x="520.9" y="470.0" width="5.4" height="0.8" fill="#D6D1AE" stroke="#8A8566" stroke-width="0.9"/>
<rect x="527.9" y="470.0" width="5.4" height="0.8" fill="#D6D1AE" stroke="#8A8566" stroke-width="0.9"/>
<rect x="535.0" y="470.4" width="5.4" height="1.0" fill="#D6D1AE" stroke="#8A8566" stroke-width="0.9"/>
<rect x="542.1" y="470.4" width="5.4" height="1.9" fill="#D6D1AE" stroke="#8A8566" stroke-width="0.9"/>
<rect x="549.2" y="470.4" width="5.4" height="2.2" fill="#D6D1AE" stroke="#8A8566" stroke-width="0.9"/>
<rect x="556.3" y="470.4" width="5.4" height="2.0" fill="#D6D1AE" stroke="#8A8566" stroke-width="0.9"/>
<rect x="563.3" y="470.4" width="5.4" height="1.3" fill="#D6D1AE" stroke="#8A8566" stroke-width="0.9"/>
<rect x="570.4" y="468.8" width="5.4" height="1.6" fill="#D6D1AE" stroke="#8A8566" stroke-width="0.9"/>
<rect x="577.5" y="464.3" width="5.4" height="6.1" fill="#D6D1AE" stroke="#8A8566" stroke-width="0.9"/>
<rect x="584.6" y="461.9" width="5.4" height="8.5" fill="#D6D1AE" stroke="#8A8566" stroke-width="0.9"/>
<rect x="591.7" y="463.0" width="5.4" height="7.4" fill="#D6D1AE" stroke="#8A8566" stroke-width="0.9"/>
<rect x="598.7" y="465.2" width="5.4" height="5.2" fill="#D6D1AE" stroke="#8A8566" stroke-width="0.9"/>
<polyline points="10.5,473.3 23.4,470.7 33.7,469.4 44.0,470.2 54.3,472.0 64.6,475.1 74.8,478.4 85.1,481.0 95.4,483.6 105.7,486.1 116.0,487.4 126.3,487.9 136.5,487.4 146.8,485.4 157.1,482.3 167.4,478.4 177.7,473.3 188.0,468.1 198.2,462.2 210.3,454.0 220.6,449.4 230.8,445.8 241.1,442.4 251.4,439.1 261.7,437.5 272.0,436.5 282.3,435.5 292.5,433.9 302.8,432.7 313.1,432.7 323.4,433.4 333.7,434.7 344.0,436.5 354.2,441.1 364.5,445.8 374.8,450.1 385.1,453.2 392.0,454.5 404.1,454.8 418.3,456.2 432.4,458.2 446.6,460.4 460.7,464.7 474.8,468.3 489.0,470.3 503.1,471.7 517.3,472.6 531.4,473.1 545.5,474.6 559.7,476.0 573.8,475.4 588.0,471.7 599.3,469.5 602.0,469.2" fill="none" stroke="#B8405E" stroke-width="1.1"/>
<polyline points="10.5,468.9 18.3,465.6 26.0,466.3 33.7,468.1 44.0,470.7 54.3,473.3 64.6,477.6 74.8,482.3 85.1,487.9 95.4,493.3 105.7,493.1 116.0,491.3 126.3,486.1 136.5,483.6 146.8,479.2 157.1,473.3 167.4,466.8 177.7,459.1 188.0,451.4 198.2,443.7 210.3,438.6 220.6,439.3 230.8,438.1 241.1,434.7 251.4,432.1 261.7,433.4 272.0,434.2 282.3,436.0 290.0,432.1 297.7,428.8 302.8,428.3 310.5,430.3 318.3,433.4 328.5,435.5 336.2,438.6 344.0,442.4 354.2,446.3 362.0,452.7 369.7,459.1 377.4,462.2 387.7,463.8 395.4,459.1 397.1,457.6 404.1,454.8 411.2,452.5 418.3,456.2 426.8,459.0 435.2,461.0 443.7,462.7 450.8,466.1 459.3,470.3 466.4,474.6 474.8,476.0 483.3,475.4 491.8,473.1 500.3,472.3 508.8,473.1 517.3,474.0 525.7,473.1 534.2,473.7 542.7,476.0 551.2,477.4 559.7,478.0 568.2,476.8 575.2,473.1 582.3,466.1 588.0,463.2 593.6,462.7 600.7,463.8 602.0,464.0" fill="none" stroke="#222" stroke-width="1.6" stroke-linejoin="round"/>
<rect x="10.6" y="421" width="89.9" height="13.4" fill="#D0D0D0"/>
<text x="13.8" y="431.3" font-family="'Liberation Sans', Arial, sans-serif" font-size="9" fill="#3a3a3a" textLength="84.2" lengthAdjust="spacingAndGlyphs">13 Apr Y:495,850.94</text>
<text x="101.8" y="431" font-family="'DejaVu Sans', Verdana, sans-serif" font-size="10" fill="#333">)</text>
<text x="108.3" y="431.4" font-family="'DejaVu Sans', Verdana, sans-serif" font-size="9.3" fill="#222" textLength="28.2" lengthAdjust="spacing">2.814</text>
<text x="137" y="431" font-family="'DejaVu Sans', Verdana, sans-serif" font-size="10" fill="#555">,</text>
<text x="145.3" y="431.4" font-family="'DejaVu Sans', Verdana, sans-serif" font-size="9.3" fill="#B03050" textLength="28.6" lengthAdjust="spacing">0.469</text>
<text x="176" y="431" font-family="'DejaVu Sans', Verdana, sans-serif" font-size="10" fill="#555">,</text>
<text x="183" y="431.4" font-family="'DejaVu Sans', Verdana, sans-serif" font-size="9.3" fill="#BDB58F" textLength="28.8" lengthAdjust="spacing">2.345</text>
<rect x="10.5" y="421" width="740.0" height="79.5" fill="none" stroke="#666" stroke-width="1"/>
<line x1="750.5" y1="433.9" x2="753.5" y2="433.9" stroke="#555" stroke-width="1"/>
<text x="767.3" y="436.2" font-family="'Liberation Sans', Arial, sans-serif" font-size="9.5" text-anchor="end" fill="#222">15</text>
<line x1="750.5" y1="446.1" x2="753.5" y2="446.1" stroke="#555" stroke-width="1"/>
<text x="767.3" y="448.4" font-family="'Liberation Sans', Arial, sans-serif" font-size="9.5" text-anchor="end" fill="#222">10</text>
<line x1="750.5" y1="458.2" x2="753.5" y2="458.2" stroke="#555" stroke-width="1"/>
<text x="767.3" y="460.6" font-family="'Liberation Sans', Arial, sans-serif" font-size="9.5" text-anchor="end" fill="#222">5</text>
<line x1="750.5" y1="482.5" x2="753.5" y2="482.5" stroke="#555" stroke-width="1"/>
<text x="767.3" y="484.8" font-family="'Liberation Sans', Arial, sans-serif" font-size="9.5" text-anchor="end" fill="#222">-5</text>
<line x1="750.5" y1="494.7" x2="753.5" y2="494.7" stroke="#555" stroke-width="1"/>
<text x="767.3" y="497.0" font-family="'Liberation Sans', Arial, sans-serif" font-size="9.5" text-anchor="end" fill="#222">-10</text>
<line x1="750.5" y1="470.4" x2="753.5" y2="470.4" stroke="#555" stroke-width="1"/>
<path d="M748.3,469.8 L752.8,465.1 L790,465.1 L790,474.5 L752.8,474.5 Z" fill="#fff" stroke="#C03050" stroke-width="1.2"/>
<text x="752.8" y="473.2" font-family="'Liberation Sans', Arial, sans-serif" font-size="10" fill="#000">0.469</text>
<path d="M748.3,462.9 L752.8,458.2 L790,458.2 L790,467.6 L752.8,467.6 Z" fill="#fff" stroke="#444" stroke-width="1.2"/>
<text x="752.8" y="466.3" font-family="'Liberation Sans', Arial, sans-serif" font-size="10" fill="#000">2.814</text>
<rect x="10.5" y="500.5" width="740.0" height="78.5" fill="#EFEFF9"/>
<line x1="10.5" y1="572.7" x2="750.5" y2="572.7" stroke="#E5E8F1" stroke-width="1"/>
<line x1="10.5" y1="569.4" x2="750.5" y2="569.4" stroke="#E5E8F1" stroke-width="1"/>
<line x1="10.5" y1="566.1" x2="750.5" y2="566.1" stroke="#E5E8F1" stroke-width="1"/>
<line x1="10.5" y1="562.8" x2="750.5" y2="562.8" stroke="#E5E8F1" stroke-width="1"/>
<line x1="10.5" y1="556.3" x2="750.5" y2="556.3" stroke="#E5E8F1" stroke-width="1"/>
<line x1="10.5" y1="553.0" x2="750.5" y2="553.0" stroke="#E5E8F1" stroke-width="1"/>
<line x1="10.5" y1="549.7" x2="750.5" y2="549.7" stroke="#E5E8F1" stroke-width="1"/>
<line x1="10.5" y1="546.4" x2="750.5" y2="546.4" stroke="#E5E8F1" stroke-width="1"/>
<line x1="10.5" y1="543.1" x2="750.5" y2="543.1" stroke="#E5E8F1" stroke-width="1"/>
<line x1="10.5" y1="536.6" x2="750.5" y2="536.6" stroke="#E5E8F1" stroke-width="1"/>
<line x1="10.5" y1="533.3" x2="750.5" y2="533.3" stroke="#E5E8F1" stroke-width="1"/>
<line x1="10.5" y1="530.0" x2="750.5" y2="530.0" stroke="#E5E8F1" stroke-width="1"/>
<line x1="10.5" y1="526.7" x2="750.5" y2="526.7" stroke="#E5E8F1" stroke-width="1"/>
<line x1="10.5" y1="523.4" x2="750.5" y2="523.4" stroke="#E5E8F1" stroke-width="1"/>
<line x1="10.5" y1="516.9" x2="750.5" y2="516.9" stroke="#E5E8F1" stroke-width="1"/>
<line x1="10.5" y1="513.6" x2="750.5" y2="513.6" stroke="#E5E8F1" stroke-width="1"/>
<line x1="10.5" y1="510.3" x2="750.5" y2="510.3" stroke="#E5E8F1" stroke-width="1"/>
<line x1="10.5" y1="507.0" x2="750.5" y2="507.0" stroke="#E5E8F1" stroke-width="1"/>
<line x1="14.1" y1="500.5" x2="14.1" y2="579" stroke="#D2DEE8" stroke-width="1.1"/>
<line x1="42.4" y1="500.5" x2="42.4" y2="579" stroke="#BFCAD6" stroke-width="1.1"/>
<line x1="49.5" y1="500.5" x2="49.5" y2="579" stroke="#D2DEE8" stroke-width="1.1"/>
<line x1="84.9" y1="500.5" x2="84.9" y2="579" stroke="#D2DEE8" stroke-width="1.1"/>
<line x1="120.3" y1="500.5" x2="120.3" y2="579" stroke="#D2DEE8" stroke-width="1.1"/>
<line x1="155.7" y1="500.5" x2="155.7" y2="579" stroke="#D2DEE8" stroke-width="1.1"/>
<line x1="184.0" y1="500.5" x2="184.0" y2="579" stroke="#BFCAD6" stroke-width="1.1"/>
<line x1="212.3" y1="500.5" x2="212.3" y2="579" stroke="#D2DEE8" stroke-width="1.1"/>
<line x1="247.7" y1="500.5" x2="247.7" y2="579" stroke="#D2DEE8" stroke-width="1.1"/>
<line x1="276.1" y1="500.5" x2="276.1" y2="579" stroke="#D2DEE8" stroke-width="1.1"/>
<line x1="311.5" y1="500.5" x2="311.5" y2="579" stroke="#D2DEE8" stroke-width="1.1"/>
<line x1="332.7" y1="500.5" x2="332.7" y2="579" stroke="#BFCAD6" stroke-width="1.1"/>
<line x1="346.9" y1="500.5" x2="346.9" y2="579" stroke="#D2DEE8" stroke-width="1.1"/>
<line x1="382.3" y1="500.5" x2="382.3" y2="579" stroke="#D2DEE8" stroke-width="1.1"/>
<line x1="417.7" y1="500.5" x2="417.7" y2="579" stroke="#D2DEE8" stroke-width="1.1"/>
<line x1="446.0" y1="500.5" x2="446.0" y2="579" stroke="#D2DEE8" stroke-width="1.1"/>
<line x1="467.2" y1="500.5" x2="467.2" y2="579" stroke="#BFCAD6" stroke-width="1.1"/>
<line x1="481.4" y1="500.5" x2="481.4" y2="579" stroke="#D2DEE8" stroke-width="1.1"/>
<line x1="516.8" y1="500.5" x2="516.8" y2="579" stroke="#D2DEE8" stroke-width="1.1"/>
<line x1="552.2" y1="500.5" x2="552.2" y2="579" stroke="#D2DEE8" stroke-width="1.1"/>
<line x1="587.6" y1="500.5" x2="587.6" y2="579" stroke="#D2DEE8" stroke-width="1.1"/>
<line x1="615.9" y1="500.5" x2="615.9" y2="579" stroke="#BFCAD6" stroke-width="1.1"/>
<line x1="651.3" y1="500.5" x2="651.3" y2="579" stroke="#D2DEE8" stroke-width="1.1"/>
<line x1="686.7" y1="500.5" x2="686.7" y2="579" stroke="#D2DEE8" stroke-width="1.1"/>
<line x1="722.1" y1="500.5" x2="722.1" y2="579" stroke="#D2DEE8" stroke-width="1.1"/>
<line x1="10.5" y1="520.1" x2="750.5" y2="520.1" stroke="#999" stroke-width="1.25"/>
<line x1="10.5" y1="559.6" x2="750.5" y2="559.6" stroke="#999" stroke-width="1.25"/>
<line x1="10.5" y1="539.9" x2="750.5" y2="539.9" stroke="#9a9aa4" stroke-width="1.3" stroke-dasharray="6,3,2,3"/>
<polyline points="10.5,531.3 15.4,527.4 20.6,523.6 25.7,521.5 30.8,523.6 36.0,530.0 41.1,537.7 46.3,545.4 51.4,551.3 56.6,555.7 61.7,560.1 66.8,563.4 72.0,566.0 77.1,566.7 84.8,566.7 92.5,567.8 100.3,567.3 108.0,563.4 113.1,559.6 118.3,555.7 123.4,553.1 128.5,550.6 133.7,548.0 138.8,544.1 144.0,539.5 149.1,533.8 154.2,527.4 159.4,519.7 167.1,512.0 180.0,509.0 201.4,511.7 211.7,513.0 224.6,515.6 234.8,516.1 242.5,515.6 252.8,513.8 263.1,518.1 270.8,520.7 278.5,524.6 286.2,525.3 294.0,522.0 304.2,517.6 312.0,519.4 319.7,528.4 330.0,534.8 340.2,538.5 347.7,542.6 355.4,550.3 363.1,556.7 370.8,562.4 378.6,564.4 386.3,561.3 391.4,556.7 399.1,543.8 405.6,531.0 412.0,522.0 417.1,520.7 423.5,524.6 431.3,537.4 440.3,543.8 448.0,546.4 458.3,550.3 466.0,558.0 473.7,561.3 481.4,562.4 489.1,556.7 496.8,550.3 504.5,546.4 514.8,547.7 525.1,546.4 532.8,540.8 539.6,540.3 547.5,544.4 555.5,549.8 561.9,553.3 569.8,552.4 576.2,546.0 582.6,536.4 590.6,525.3 596.9,518.9 603.3,519.9" fill="none" stroke="#A8476C" stroke-width="1.2"/>
<polyline points="10.5,524.8 15.4,521.5 20.6,519.7 25.7,521.0 30.8,527.4 36.0,536.4 41.1,545.4 46.3,550.6 51.4,553.9 56.6,557.0 61.7,560.8 66.8,564.7 72.0,567.8 77.1,567.3 84.8,566.7 92.5,568.5 97.7,566.7 102.8,563.4 108.0,560.1 113.1,556.5 118.3,552.4 123.4,549.3 128.5,546.7 133.7,542.8 138.8,537.7 144.0,531.3 149.1,523.6 154.2,515.8 158.1,512.0 170.0,509.0 190.0,509.0 201.4,512.2 211.7,512.5 224.6,516.9 234.8,516.9 242.5,514.3 252.8,513.5 260.5,518.7 268.3,522.0 276.0,526.4 283.7,524.6 291.4,519.4 299.1,515.6 304.2,515.6 309.4,520.7 317.1,532.3 324.8,536.6 332.5,536.1 340.2,540.0 346.4,545.1 354.1,556.7 360.6,562.4 368.3,565.7 374.7,566.2 381.1,559.3 388.8,555.4 396.6,536.1 403.0,523.3 410.7,512.5 417.1,523.3 424.8,536.1 431.3,545.1 437.7,545.9 445.4,545.9 453.1,550.3 460.8,556.7 467.2,564.9 473.7,562.4 481.4,559.3 489.1,549.0 496.8,546.4 503.2,546.4 509.7,549.0 517.4,547.7 525.1,541.3 530.2,538.2 538.0,539.6 544.3,547.6 552.3,551.7 559.3,554.9 566.7,550.8 573.0,546.0 579.4,531.7 587.4,518.0 595.3,514.8 601.7,525.3" fill="none" stroke="#222" stroke-width="1.6" stroke-linejoin="round"/>
<rect x="11" y="501" width="222" height="12" fill="#EFEFF9"/>
<line x1="13.4" y1="507.6" x2="20.6" y2="507.6" stroke="#222" stroke-width="2"/>
<text x="24.8" y="510.4" font-family="'DejaVu Sans', Verdana, sans-serif" font-size="9.5" fill="#222" textLength="167.6" lengthAdjust="spacing">Full STO %K(14,3) %D(3) 71.70,</text>
<text x="200.2" y="510.4" font-family="'DejaVu Sans', Verdana, sans-serif" font-size="9.5" fill="#B03050" textLength="28.2" lengthAdjust="spacing">82.01</text>
<rect x="10.5" y="500.5" width="740.0" height="78.5" fill="none" stroke="#666" stroke-width="1"/>
<line x1="750.5" y1="539.9" x2="753.5" y2="539.9" stroke="#555" stroke-width="1"/>
<text x="754" y="543.1" font-family="'Liberation Sans', Arial, sans-serif" font-size="9.5" fill="#222">50</text>
<line x1="750.5" y1="559.6" x2="753.5" y2="559.6" stroke="#555" stroke-width="1"/>
<text x="754" y="562.9" font-family="'Liberation Sans', Arial, sans-serif" font-size="9.5" fill="#222">20</text>
<line x1="750.5" y1="520.1" x2="753.5" y2="520.1" stroke="#555" stroke-width="1"/>
<path d="M748.3,516.9 L752.8,512.2 L790,512.2 L790,521.6 L752.8,521.6 Z" fill="#fff" stroke="#C03050" stroke-width="1.2"/>
<text x="752.8" y="520.3" font-family="'Liberation Sans', Arial, sans-serif" font-size="10" fill="#000">82.01</text>
<path d="M748.3,524.5 L752.8,519.8 L790,519.8 L790,529.2 L752.8,529.2 Z" fill="#fff" stroke="#444" stroke-width="1.2"/>
<text x="752.8" y="527.9" font-family="'Liberation Sans', Arial, sans-serif" font-size="10" fill="#000">71.70</text>
<line x1="14.1" y1="579" x2="14.1" y2="581" stroke="#777" stroke-width="0.8"/>
<line x1="21.2" y1="579" x2="21.2" y2="581" stroke="#777" stroke-width="0.8"/>
<line x1="28.3" y1="579" x2="28.3" y2="581" stroke="#777" stroke-width="0.8"/>
<line x1="35.3" y1="579" x2="35.3" y2="581" stroke="#777" stroke-width="0.8"/>
<line x1="42.4" y1="579" x2="42.4" y2="581" stroke="#777" stroke-width="0.8"/>
<line x1="49.5" y1="579" x2="49.5" y2="581" stroke="#777" stroke-width="0.8"/>
<line x1="56.6" y1="579" x2="56.6" y2="581" stroke="#777" stroke-width="0.8"/>
<line x1="63.7" y1="579" x2="63.7" y2="581" stroke="#777" stroke-width="0.8"/>
<line x1="70.7" y1="579" x2="70.7" y2="581" stroke="#777" stroke-width="0.8"/>
<line x1="77.8" y1="579" x2="77.8" y2="581" stroke="#777" stroke-width="0.8"/>
<line x1="84.9" y1="579" x2="84.9" y2="581" stroke="#777" stroke-width="0.8"/>
<line x1="92.0" y1="579" x2="92.0" y2="581" stroke="#777" stroke-width="0.8"/>
<line x1="99.1" y1="579" x2="99.1" y2="581" stroke="#777" stroke-width="0.8"/>
<line x1="106.1" y1="579" x2="106.1" y2="581" stroke="#777" stroke-width="0.8"/>
<line x1="113.2" y1="579" x2="113.2" y2="581" stroke="#777" stroke-width="0.8"/>
<line x1="120.3" y1="579" x2="120.3" y2="581" stroke="#777" stroke-width="0.8"/>
<line x1="127.4" y1="579" x2="127.4" y2="581" stroke="#777" stroke-width="0.8"/>
<line x1="134.5" y1="579" x2="134.5" y2="581" stroke="#777" stroke-width="0.8"/>
<line x1="141.5" y1="579" x2="141.5" y2="581" stroke="#777" stroke-width="0.8"/>
<line x1="148.6" y1="579" x2="148.6" y2="581" stroke="#777" stroke-width="0.8"/>
<line x1="155.7" y1="579" x2="155.7" y2="581" stroke="#777" stroke-width="0.8"/>
<line x1="162.8" y1="579" x2="162.8" y2="581" stroke="#777" stroke-width="0.8"/>
<line x1="169.9" y1="579" x2="169.9" y2="581" stroke="#777" stroke-width="0.8"/>
<line x1="176.9" y1="579" x2="176.9" y2="581" stroke="#777" stroke-width="0.8"/>
<line x1="184.0" y1="579" x2="184.0" y2="581" stroke="#777" stroke-width="0.8"/>
<line x1="191.1" y1="579" x2="191.1" y2="581" stroke="#777" stroke-width="0.8"/>
<line x1="198.2" y1="579" x2="198.2" y2="581" stroke="#777" stroke-width="0.8"/>
<line x1="205.3" y1="579" x2="205.3" y2="581" stroke="#777" stroke-width="0.8"/>
<line x1="212.3" y1="579" x2="212.3" y2="581" stroke="#777" stroke-width="0.8"/>
<line x1="219.4" y1="579" x2="219.4" y2="581" stroke="#777" stroke-width="0.8"/>
<line x1="226.5" y1="579" x2="226.5" y2="581" stroke="#777" stroke-width="0.8"/>
<line x1="233.6" y1="579" x2="233.6" y2="581" stroke="#777" stroke-width="0.8"/>
<line x1="240.7" y1="579" x2="240.7" y2="581" stroke="#777" stroke-width="0.8"/>
<line x1="247.7" y1="579" x2="247.7" y2="581" stroke="#777" stroke-width="0.8"/>
<line x1="254.8" y1="579" x2="254.8" y2="581" stroke="#777" stroke-width="0.8"/>
<line x1="261.9" y1="579" x2="261.9" y2="581" stroke="#777" stroke-width="0.8"/>
<line x1="269.0" y1="579" x2="269.0" y2="581" stroke="#777" stroke-width="0.8"/>
<line x1="276.1" y1="579" x2="276.1" y2="581" stroke="#777" stroke-width="0.8"/>
<line x1="283.1" y1="579" x2="283.1" y2="581" stroke="#777" stroke-width="0.8"/>
<line x1="290.2" y1="579" x2="290.2" y2="581" stroke="#777" stroke-width="0.8"/>
<line x1="297.3" y1="579" x2="297.3" y2="581" stroke="#777" stroke-width="0.8"/>
<line x1="304.4" y1="579" x2="304.4" y2="581" stroke="#777" stroke-width="0.8"/>
<line x1="311.5" y1="579" x2="311.5" y2="581" stroke="#777" stroke-width="0.8"/>
<line x1="318.5" y1="579" x2="318.5" y2="581" stroke="#777" stroke-width="0.8"/>
<line x1="325.6" y1="579" x2="325.6" y2="581" stroke="#777" stroke-width="0.8"/>
<line x1="332.7" y1="579" x2="332.7" y2="581" stroke="#777" stroke-width="0.8"/>
<line x1="339.8" y1="579" x2="339.8" y2="581" stroke="#777" stroke-width="0.8"/>
<line x1="346.9" y1="579" x2="346.9" y2="581" stroke="#777" stroke-width="0.8"/>
<line x1="353.9" y1="579" x2="353.9" y2="581" stroke="#777" stroke-width="0.8"/>
<line x1="361.0" y1="579" x2="361.0" y2="581" stroke="#777" stroke-width="0.8"/>
<line x1="368.1" y1="579" x2="368.1" y2="581" stroke="#777" stroke-width="0.8"/>
<line x1="375.2" y1="579" x2="375.2" y2="581" stroke="#777" stroke-width="0.8"/>
<line x1="382.3" y1="579" x2="382.3" y2="581" stroke="#777" stroke-width="0.8"/>
<line x1="389.3" y1="579" x2="389.3" y2="581" stroke="#777" stroke-width="0.8"/>
<line x1="396.4" y1="579" x2="396.4" y2="581" stroke="#777" stroke-width="0.8"/>
<line x1="403.5" y1="579" x2="403.5" y2="581" stroke="#777" stroke-width="0.8"/>
<line x1="410.6" y1="579" x2="410.6" y2="581" stroke="#777" stroke-width="0.8"/>
<line x1="417.7" y1="579" x2="417.7" y2="581" stroke="#777" stroke-width="0.8"/>
<line x1="424.7" y1="579" x2="424.7" y2="581" stroke="#777" stroke-width="0.8"/>
<line x1="431.8" y1="579" x2="431.8" y2="581" stroke="#777" stroke-width="0.8"/>
<line x1="438.9" y1="579" x2="438.9" y2="581" stroke="#777" stroke-width="0.8"/>
<line x1="446.0" y1="579" x2="446.0" y2="581" stroke="#777" stroke-width="0.8"/>
<line x1="453.1" y1="579" x2="453.1" y2="581" stroke="#777" stroke-width="0.8"/>
<line x1="460.1" y1="579" x2="460.1" y2="581" stroke="#777" stroke-width="0.8"/>
<line x1="467.2" y1="579" x2="467.2" y2="581" stroke="#777" stroke-width="0.8"/>
<line x1="474.3" y1="579" x2="474.3" y2="581" stroke="#777" stroke-width="0.8"/>
<line x1="481.4" y1="579" x2="481.4" y2="581" stroke="#777" stroke-width="0.8"/>
<line x1="488.5" y1="579" x2="488.5" y2="581" stroke="#777" stroke-width="0.8"/>
<line x1="495.5" y1="579" x2="495.5" y2="581" stroke="#777" stroke-width="0.8"/>
<line x1="502.6" y1="579" x2="502.6" y2="581" stroke="#777" stroke-width="0.8"/>
<line x1="509.7" y1="579" x2="509.7" y2="581" stroke="#777" stroke-width="0.8"/>
<line x1="516.8" y1="579" x2="516.8" y2="581" stroke="#777" stroke-width="0.8"/>
<line x1="523.9" y1="579" x2="523.9" y2="581" stroke="#777" stroke-width="0.8"/>
<line x1="530.9" y1="579" x2="530.9" y2="581" stroke="#777" stroke-width="0.8"/>
<line x1="538.0" y1="579" x2="538.0" y2="581" stroke="#777" stroke-width="0.8"/>
<line x1="545.1" y1="579" x2="545.1" y2="581" stroke="#777" stroke-width="0.8"/>
<line x1="552.2" y1="579" x2="552.2" y2="581" stroke="#777" stroke-width="0.8"/>
<line x1="559.3" y1="579" x2="559.3" y2="581" stroke="#777" stroke-width="0.8"/>
<line x1="566.3" y1="579" x2="566.3" y2="581" stroke="#777" stroke-width="0.8"/>
<line x1="573.4" y1="579" x2="573.4" y2="581" stroke="#777" stroke-width="0.8"/>
<line x1="580.5" y1="579" x2="580.5" y2="581" stroke="#777" stroke-width="0.8"/>
<line x1="587.6" y1="579" x2="587.6" y2="581" stroke="#777" stroke-width="0.8"/>
<line x1="594.7" y1="579" x2="594.7" y2="581" stroke="#777" stroke-width="0.8"/>
<line x1="601.7" y1="579" x2="601.7" y2="581" stroke="#777" stroke-width="0.8"/>
<line x1="608.8" y1="579" x2="608.8" y2="581" stroke="#777" stroke-width="0.8"/>
<line x1="615.9" y1="579" x2="615.9" y2="581" stroke="#777" stroke-width="0.8"/>
<line x1="623.0" y1="579" x2="623.0" y2="581" stroke="#777" stroke-width="0.8"/>
<line x1="630.1" y1="579" x2="630.1" y2="581" stroke="#777" stroke-width="0.8"/>
<line x1="637.1" y1="579" x2="637.1" y2="581" stroke="#777" stroke-width="0.8"/>
<line x1="644.2" y1="579" x2="644.2" y2="581" stroke="#777" stroke-width="0.8"/>
<line x1="651.3" y1="579" x2="651.3" y2="581" stroke="#777" stroke-width="0.8"/>
<line x1="658.4" y1="579" x2="658.4" y2="581" stroke="#777" stroke-width="0.8"/>
<line x1="665.5" y1="579" x2="665.5" y2="581" stroke="#777" stroke-width="0.8"/>
<line x1="672.5" y1="579" x2="672.5" y2="581" stroke="#777" stroke-width="0.8"/>
<line x1="679.6" y1="579" x2="679.6" y2="581" stroke="#777" stroke-width="0.8"/>
<line x1="686.7" y1="579" x2="686.7" y2="581" stroke="#777" stroke-width="0.8"/>
<line x1="693.8" y1="579" x2="693.8" y2="581" stroke="#777" stroke-width="0.8"/>
<line x1="700.9" y1="579" x2="700.9" y2="581" stroke="#777" stroke-width="0.8"/>
<line x1="707.9" y1="579" x2="707.9" y2="581" stroke="#777" stroke-width="0.8"/>
<line x1="715.0" y1="579" x2="715.0" y2="581" stroke="#777" stroke-width="0.8"/>
<line x1="722.1" y1="579" x2="722.1" y2="581" stroke="#777" stroke-width="0.8"/>
<line x1="729.2" y1="579" x2="729.2" y2="581" stroke="#777" stroke-width="0.8"/>
<line x1="736.3" y1="579" x2="736.3" y2="581" stroke="#777" stroke-width="0.8"/>
<line x1="743.3" y1="579" x2="743.3" y2="581" stroke="#777" stroke-width="0.8"/>
<line x1="750.4" y1="579" x2="750.4" y2="581" stroke="#777" stroke-width="0.8"/>
<text x="13.8" y="588.4" font-family="'Liberation Sans', Arial, sans-serif" font-size="10" text-anchor="middle" fill="#111">27</text>
<text x="42.1" y="588.4" font-family="'Liberation Sans', Arial, sans-serif" font-size="10" font-weight="bold" text-anchor="middle" fill="#111" stroke="#111" stroke-width="0.35">Dec</text>
<text x="84.6" y="588.4" font-family="'Liberation Sans', Arial, sans-serif" font-size="10" text-anchor="middle" fill="#111">11</text>
<text x="120.0" y="588.4" font-family="'Liberation Sans', Arial, sans-serif" font-size="10" text-anchor="middle" fill="#111">18</text>
<text x="155.4" y="588.4" font-family="'Liberation Sans', Arial, sans-serif" font-size="10" text-anchor="middle" fill="#111">26</text>
<text x="183.7" y="588.4" font-family="'Liberation Sans', Arial, sans-serif" font-size="10" font-weight="bold" text-anchor="middle" fill="#111" stroke="#111" stroke-width="0.35">2018</text>
<text x="212.0" y="588.4" font-family="'Liberation Sans', Arial, sans-serif" font-size="10" text-anchor="middle" fill="#111">8</text>
<text x="247.4" y="588.4" font-family="'Liberation Sans', Arial, sans-serif" font-size="10" text-anchor="middle" fill="#111">16</text>
<text x="275.8" y="588.4" font-family="'Liberation Sans', Arial, sans-serif" font-size="10" text-anchor="middle" fill="#111">22</text>
<text x="311.2" y="588.4" font-family="'Liberation Sans', Arial, sans-serif" font-size="10" text-anchor="middle" fill="#111">29</text>
<text x="332.4" y="588.4" font-family="'Liberation Sans', Arial, sans-serif" font-size="10" font-weight="bold" text-anchor="middle" fill="#111" stroke="#111" stroke-width="0.35">Feb</text>
<text x="346.6" y="588.4" font-family="'Liberation Sans', Arial, sans-serif" font-size="10" text-anchor="middle" fill="#111">5</text>
<text x="382.0" y="588.4" font-family="'Liberation Sans', Arial, sans-serif" font-size="10" text-anchor="middle" fill="#111">12</text>
<text x="417.4" y="588.4" font-family="'Liberation Sans', Arial, sans-serif" font-size="10" text-anchor="middle" fill="#111">20</text>
<text x="445.7" y="588.4" font-family="'Liberation Sans', Arial, sans-serif" font-size="10" text-anchor="middle" fill="#111">26</text>
<text x="466.9" y="588.4" font-family="'Liberation Sans', Arial, sans-serif" font-size="10" font-weight="bold" text-anchor="middle" fill="#111" stroke="#111" stroke-width="0.35">Mar</text>
<text x="481.1" y="588.4" font-family="'Liberation Sans', Arial, sans-serif" font-size="10" text-anchor="middle" fill="#111">5</text>
<text x="516.5" y="588.4" font-family="'Liberation Sans', Arial, sans-serif" font-size="10" text-anchor="middle" fill="#111">12</text>
<text x="551.9" y="588.4" font-family="'Liberation Sans', Arial, sans-serif" font-size="10" text-anchor="middle" fill="#111">19</text>
<text x="587.3" y="588.4" font-family="'Liberation Sans', Arial, sans-serif" font-size="10" text-anchor="middle" fill="#111">26</text>
<text x="615.6" y="588.4" font-family="'Liberation Sans', Arial, sans-serif" font-size="10" font-weight="bold" text-anchor="middle" fill="#111" stroke="#111" stroke-width="0.35">Apr</text>
<text x="651.0" y="588.4" font-family="'Liberation Sans', Arial, sans-serif" font-size="10" text-anchor="middle" fill="#111">9</text>
<text x="686.4" y="588.4" font-family="'Liberation Sans', Arial, sans-serif" font-size="10" text-anchor="middle" fill="#111">16</text>
<text x="721.8" y="588.4" font-family="'Liberation Sans', Arial, sans-serif" font-size="10" text-anchor="middle" fill="#111">23</text>
</svg>
</body></html>
